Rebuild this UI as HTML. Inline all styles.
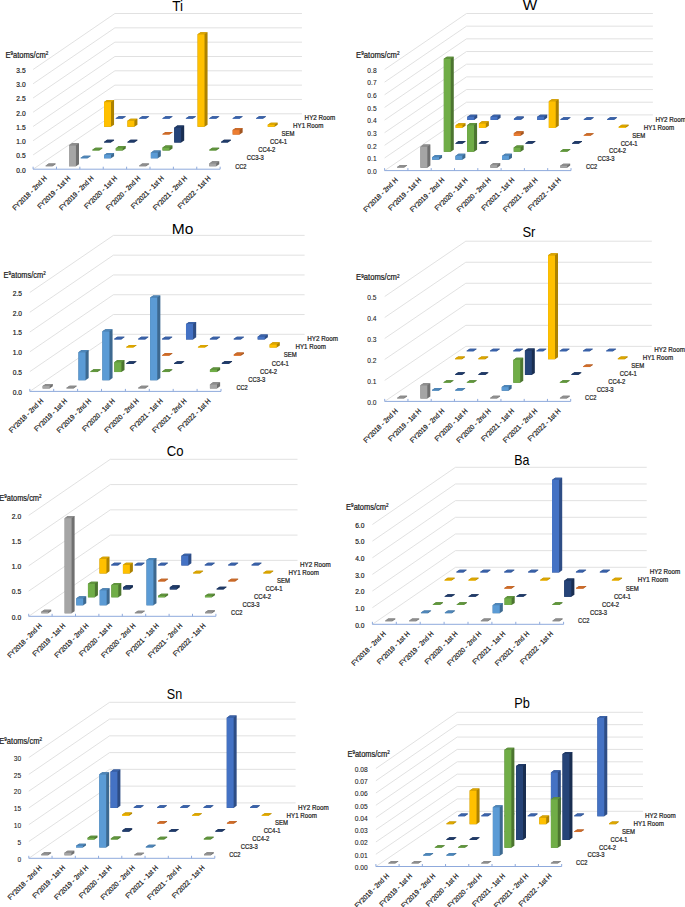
<!DOCTYPE html>
<html><head><meta charset="utf-8"><style>
html,body{margin:0;padding:0;background:#fff;}
svg{display:block;font-family:"Liberation Sans",sans-serif;}
.t{stroke:#1a1a1a;stroke-width:0.22px;}
</style></head><body>
<svg width="685" height="907" viewBox="0 0 685 907">
<rect width="685" height="907" fill="#fff"/>
<path d="M33.10,169.20 L114.90,113.80 L301.94,113.80 M33.10,154.96 L114.90,99.47 L301.94,99.47 M33.10,140.71 L114.90,85.14 L301.94,85.14 M33.10,126.47 L114.90,70.81 L301.94,70.81 M33.10,112.23 L114.90,56.49 L301.94,56.49 M33.10,97.99 L114.90,42.16 L301.94,42.16 M33.10,83.74 L114.90,27.83 L301.94,27.83 M33.10,69.50 L114.90,13.50 L301.94,13.50" fill="none" stroke="#dedede" stroke-width="0.9"/>
<path d="M33.10,169.20 L220.14,169.20 M33.10,166.70 L33.10,169.20 M56.48,166.70 L56.48,169.20 M79.86,166.70 L79.86,169.20 M103.24,166.70 L103.24,169.20 M126.62,166.70 L126.62,169.20 M150.00,166.70 L150.00,169.20 M173.38,166.70 L173.38,169.20 M196.76,166.70 L196.76,169.20 M220.14,166.70 L220.14,169.20" fill="none" stroke="#8faadc" stroke-width="1"/>
<polygon points="115.76,118.79 122.70,118.79 125.74,116.73 125.74,116.13 118.79,116.13 115.76,118.19" fill="#2e4d85"/>
<polygon points="115.76,118.19 122.70,118.19 125.74,116.13 118.79,116.13" fill="#3a62a8"/>
<polygon points="115.76,118.19 122.70,118.19 122.70,118.79 115.76,118.79" fill="#4472C4"/>
<polygon points="139.14,118.79 146.08,118.79 149.12,116.73 149.12,116.13 142.17,116.13 139.14,118.19" fill="#2e4d85"/>
<polygon points="139.14,118.19 146.08,118.19 149.12,116.13 142.17,116.13" fill="#3a62a8"/>
<polygon points="139.14,118.19 146.08,118.19 146.08,118.79 139.14,118.79" fill="#4472C4"/>
<polygon points="162.52,118.79 169.46,118.79 172.50,116.73 172.50,116.13 165.55,116.13 162.52,118.19" fill="#2e4d85"/>
<polygon points="162.52,118.19 169.46,118.19 172.50,116.13 165.55,116.13" fill="#3a62a8"/>
<polygon points="162.52,118.19 169.46,118.19 169.46,118.79 162.52,118.79" fill="#4472C4"/>
<polygon points="185.90,118.79 192.84,118.79 195.88,116.73 195.88,116.13 188.93,116.13 185.90,118.19" fill="#2e4d85"/>
<polygon points="185.90,118.19 192.84,118.19 195.88,116.13 188.93,116.13" fill="#3a62a8"/>
<polygon points="185.90,118.19 192.84,118.19 192.84,118.79 185.90,118.79" fill="#4472C4"/>
<polygon points="209.28,118.79 216.22,118.79 219.26,116.73 219.26,116.13 212.31,116.13 209.28,118.19" fill="#2e4d85"/>
<polygon points="209.28,118.19 216.22,118.19 219.26,116.13 212.31,116.13" fill="#3a62a8"/>
<polygon points="209.28,118.19 216.22,118.19 216.22,118.79 209.28,118.79" fill="#4472C4"/>
<polygon points="232.66,118.79 239.60,118.79 242.64,116.73 242.64,116.13 235.69,116.13 232.66,118.19" fill="#2e4d85"/>
<polygon points="232.66,118.19 239.60,118.19 242.64,116.13 235.69,116.13" fill="#3a62a8"/>
<polygon points="232.66,118.19 239.60,118.19 239.60,118.79 232.66,118.79" fill="#4472C4"/>
<polygon points="256.04,118.79 262.98,118.79 266.02,116.73 266.02,116.13 259.07,116.13 256.04,118.19" fill="#2e4d85"/>
<polygon points="256.04,118.19 262.98,118.19 266.02,116.13 259.07,116.13" fill="#3a62a8"/>
<polygon points="256.04,118.19 262.98,118.19 262.98,118.79 256.04,118.79" fill="#4472C4"/>
<polygon points="104.07,126.70 111.01,126.70 114.05,124.64 114.05,100.03 107.11,100.03 104.07,102.09" fill="#ad8200"/>
<polygon points="104.07,102.09 111.01,102.09 114.05,100.03 107.11,100.03" fill="#dba500"/>
<polygon points="104.07,102.09 111.01,102.09 111.01,126.70 104.07,126.70" fill="#FFC000"/>
<polygon points="127.45,126.70 134.39,126.70 137.43,124.64 137.43,118.63 130.49,118.63 127.45,120.69" fill="#ad8200"/>
<polygon points="127.45,120.69 134.39,120.69 137.43,118.63 130.49,118.63" fill="#dba500"/>
<polygon points="127.45,120.69 134.39,120.69 134.39,126.70 127.45,126.70" fill="#FFC000"/>
<polygon points="197.59,126.70 204.53,126.70 207.57,124.64 207.57,32.19 200.63,32.19 197.59,34.27" fill="#ad8200"/>
<polygon points="197.59,34.27 204.53,34.27 207.57,32.19 200.63,32.19" fill="#dba500"/>
<polygon points="197.59,34.27 204.53,34.27 204.53,126.70 197.59,126.70" fill="#FFC000"/>
<polygon points="267.73,126.70 274.67,126.70 277.71,124.64 277.71,122.64 270.77,122.64 267.73,124.70" fill="#ad8200"/>
<polygon points="267.73,124.70 274.67,124.70 277.71,122.64 270.77,122.64" fill="#dba500"/>
<polygon points="267.73,124.70 274.67,124.70 274.67,126.70 267.73,126.70" fill="#FFC000"/>
<polygon points="162.52,134.61 169.47,134.61 172.51,132.56 172.51,131.96 165.56,131.96 162.52,134.01" fill="#a15521"/>
<polygon points="162.52,134.01 169.47,134.01 172.51,131.96 165.56,131.96" fill="#cb6b2a"/>
<polygon points="162.52,134.01 169.47,134.01 169.47,134.61 162.52,134.61" fill="#ED7D31"/>
<polygon points="232.66,134.61 239.61,134.61 242.65,132.56 242.65,127.98 235.70,127.98 232.66,130.04" fill="#a15521"/>
<polygon points="232.66,130.04 239.61,130.04 242.65,127.98 235.70,127.98" fill="#cb6b2a"/>
<polygon points="232.66,130.04 239.61,130.04 239.61,134.61 232.66,134.61" fill="#ED7D31"/>
<polygon points="104.08,142.53 111.02,142.53 114.06,140.47 114.06,139.87 107.12,139.87 104.08,141.93" fill="#192e51"/>
<polygon points="104.08,141.93 111.02,141.93 114.06,139.87 107.12,139.87" fill="#203a67"/>
<polygon points="104.08,141.93 111.02,141.93 111.02,142.53 104.08,142.53" fill="#264478"/>
<polygon points="127.46,142.53 134.40,142.53 137.44,140.47 137.44,139.87 130.50,139.87 127.46,141.93" fill="#192e51"/>
<polygon points="127.46,141.93 134.40,141.93 137.44,139.87 130.50,139.87" fill="#203a67"/>
<polygon points="127.46,141.93 134.40,141.93 134.40,142.53 127.46,142.53" fill="#264478"/>
<polygon points="174.22,142.53 181.16,142.53 184.20,140.47 184.20,125.61 177.26,125.61 174.22,127.67" fill="#192e51"/>
<polygon points="174.22,127.67 181.16,127.67 184.20,125.61 177.26,125.61" fill="#203a67"/>
<polygon points="174.22,127.67 181.16,127.67 181.16,142.53 174.22,142.53" fill="#264478"/>
<polygon points="220.98,142.53 227.92,142.53 230.96,140.47 230.96,139.87 224.02,139.87 220.98,141.93" fill="#192e51"/>
<polygon points="220.98,141.93 227.92,141.93 230.96,139.87 224.02,139.87" fill="#203a67"/>
<polygon points="220.98,141.93 227.92,141.93 227.92,142.53 220.98,142.53" fill="#264478"/>
<polygon points="92.39,150.44 99.34,150.44 102.38,148.39 102.38,147.79 95.43,147.79 92.39,149.84" fill="#4c7530"/>
<polygon points="92.39,149.84 99.34,149.84 102.38,147.79 95.43,147.79" fill="#60943d"/>
<polygon points="92.39,149.84 99.34,149.84 99.34,150.44 92.39,150.44" fill="#70AD47"/>
<polygon points="115.77,150.44 122.72,150.44 125.76,148.39 125.76,146.10 118.81,146.10 115.77,148.16" fill="#4c7530"/>
<polygon points="115.77,148.16 122.72,148.16 125.76,146.10 118.81,146.10" fill="#60943d"/>
<polygon points="115.77,148.16 122.72,148.16 122.72,150.44 115.77,150.44" fill="#70AD47"/>
<polygon points="162.53,150.44 169.48,150.44 172.52,148.39 172.52,145.53 165.57,145.53 162.53,147.59" fill="#4c7530"/>
<polygon points="162.53,147.59 169.48,147.59 172.52,145.53 165.57,145.53" fill="#60943d"/>
<polygon points="162.53,147.59 169.48,147.59 169.48,150.44 162.53,150.44" fill="#70AD47"/>
<polygon points="209.29,150.44 216.24,150.44 219.28,148.39 219.28,147.79 212.33,147.79 209.29,149.84" fill="#4c7530"/>
<polygon points="209.29,149.84 216.24,149.84 219.28,147.79 212.33,147.79" fill="#60943d"/>
<polygon points="209.29,149.84 216.24,149.84 216.24,150.44 209.29,150.44" fill="#70AD47"/>
<polygon points="80.71,158.36 87.65,158.36 90.69,156.30 90.69,155.70 83.75,155.70 80.71,157.76" fill="#3d6990"/>
<polygon points="80.71,157.76 87.65,157.76 90.69,155.70 83.75,155.70" fill="#4e85b7"/>
<polygon points="80.71,157.76 87.65,157.76 87.65,158.36 80.71,158.36" fill="#5B9BD5"/>
<polygon points="104.09,158.36 111.03,158.36 114.07,156.30 114.07,152.88 107.13,152.88 104.09,154.94" fill="#3d6990"/>
<polygon points="104.09,154.94 111.03,154.94 114.07,152.88 107.13,152.88" fill="#4e85b7"/>
<polygon points="104.09,154.94 111.03,154.94 111.03,158.36 104.09,158.36" fill="#5B9BD5"/>
<polygon points="150.85,158.36 157.79,158.36 160.83,156.30 160.83,150.59 153.89,150.59 150.85,152.65" fill="#3d6990"/>
<polygon points="150.85,152.65 157.79,152.65 160.83,150.59 153.89,150.59" fill="#4e85b7"/>
<polygon points="150.85,152.65 157.79,152.65 157.79,158.36 150.85,158.36" fill="#5B9BD5"/>
<polygon points="45.64,166.27 52.59,166.27 55.62,164.21 55.62,163.61 48.68,163.61 45.64,165.67" fill="#707070"/>
<polygon points="45.64,165.67 52.59,165.67 55.62,163.61 48.68,163.61" fill="#8d8d8d"/>
<polygon points="45.64,165.67 52.59,165.67 52.59,166.27 45.64,166.27" fill="#A5A5A5"/>
<polygon points="69.02,166.27 75.97,166.27 79.00,164.21 79.00,143.27 72.06,143.27 69.02,145.33" fill="#707070"/>
<polygon points="69.02,145.33 75.97,145.33 79.00,143.27 72.06,143.27" fill="#8d8d8d"/>
<polygon points="69.02,145.33 75.97,145.33 75.97,166.27 69.02,166.27" fill="#A5A5A5"/>
<polygon points="139.16,166.27 146.11,166.27 149.14,164.21 149.14,163.61 142.20,163.61 139.16,165.67" fill="#707070"/>
<polygon points="139.16,165.67 146.11,165.67 149.14,163.61 142.20,163.61" fill="#8d8d8d"/>
<polygon points="139.16,165.67 146.11,165.67 146.11,166.27 139.16,166.27" fill="#A5A5A5"/>
<polygon points="209.30,166.27 216.25,166.27 219.28,164.21 219.28,161.36 212.34,161.36 209.30,163.42" fill="#707070"/>
<polygon points="209.30,163.42 216.25,163.42 219.28,161.36 212.34,161.36" fill="#8d8d8d"/>
<polygon points="209.30,163.42 216.25,163.42 216.25,166.27 209.30,166.27" fill="#A5A5A5"/>
<text x="25.60" y="172.50" font-size="7.4" text-anchor="end" fill="#1a1a1a" stroke="#1a1a1a" stroke-width="0.2" textLength="9.26" lengthAdjust="spacingAndGlyphs">0.0</text>
<text x="25.60" y="158.26" font-size="7.4" text-anchor="end" fill="#1a1a1a" stroke="#1a1a1a" stroke-width="0.2" textLength="9.26" lengthAdjust="spacingAndGlyphs">0.5</text>
<text x="25.60" y="144.01" font-size="7.4" text-anchor="end" fill="#1a1a1a" stroke="#1a1a1a" stroke-width="0.2" textLength="9.26" lengthAdjust="spacingAndGlyphs">1.0</text>
<text x="25.60" y="129.77" font-size="7.4" text-anchor="end" fill="#1a1a1a" stroke="#1a1a1a" stroke-width="0.2" textLength="9.26" lengthAdjust="spacingAndGlyphs">1.5</text>
<text x="25.60" y="115.53" font-size="7.4" text-anchor="end" fill="#1a1a1a" stroke="#1a1a1a" stroke-width="0.2" textLength="9.26" lengthAdjust="spacingAndGlyphs">2.0</text>
<text x="25.60" y="101.29" font-size="7.4" text-anchor="end" fill="#1a1a1a" stroke="#1a1a1a" stroke-width="0.2" textLength="9.26" lengthAdjust="spacingAndGlyphs">2.5</text>
<text x="25.60" y="87.04" font-size="7.4" text-anchor="end" fill="#1a1a1a" stroke="#1a1a1a" stroke-width="0.2" textLength="9.26" lengthAdjust="spacingAndGlyphs">3.0</text>
<text x="25.60" y="72.80" font-size="7.4" text-anchor="end" fill="#1a1a1a" stroke="#1a1a1a" stroke-width="0.2" textLength="9.26" lengthAdjust="spacingAndGlyphs">3.5</text>
<text class="t" x="5.50" y="58.00" font-size="8.2" fill="#1a1a1a" textLength="42.80" lengthAdjust="spacingAndGlyphs">E<tspan font-size="5" dy="-2.8">9</tspan><tspan dy="2.8">atoms/cm</tspan><tspan font-size="5" dy="-2.8">2</tspan></text>
<text x="172.20" y="11.20" font-size="14.2" fill="#000" textLength="10.80" lengthAdjust="spacingAndGlyphs">Ti</text>
<text class="t" x="235.20" y="168.50" font-size="7" fill="#1a1a1a" textLength="11.30" lengthAdjust="spacingAndGlyphs">CC2</text>
<text class="t" x="246.77" y="160.47" font-size="7" fill="#1a1a1a" textLength="17.00" lengthAdjust="spacingAndGlyphs">CC3-3</text>
<text class="t" x="258.34" y="152.44" font-size="7" fill="#1a1a1a" textLength="17.00" lengthAdjust="spacingAndGlyphs">CC4-2</text>
<text class="t" x="269.91" y="144.41" font-size="7" fill="#1a1a1a" textLength="17.00" lengthAdjust="spacingAndGlyphs">CC4-1</text>
<text class="t" x="281.48" y="136.38" font-size="7" fill="#1a1a1a" textLength="13.00" lengthAdjust="spacingAndGlyphs">SEM</text>
<text class="t" x="293.05" y="128.35" font-size="7" fill="#1a1a1a" textLength="30.30" lengthAdjust="spacingAndGlyphs">HY1 Room</text>
<text class="t" x="304.62" y="120.32" font-size="7" fill="#1a1a1a" textLength="30.60" lengthAdjust="spacingAndGlyphs">HY2 Room</text>
<text class="t" transform="translate(47.29,178.80) rotate(-45)" font-size="7" text-anchor="end" fill="#1a1a1a" textLength="45.18" lengthAdjust="spacingAndGlyphs">FY2018 - 2nd H</text>
<text class="t" transform="translate(70.67,178.80) rotate(-45)" font-size="7" text-anchor="end" fill="#1a1a1a" textLength="43.04" lengthAdjust="spacingAndGlyphs">FY2019 - 1st H</text>
<text class="t" transform="translate(94.05,178.80) rotate(-45)" font-size="7" text-anchor="end" fill="#1a1a1a" textLength="45.18" lengthAdjust="spacingAndGlyphs">FY2019 - 2nd H</text>
<text class="t" transform="translate(117.43,178.80) rotate(-45)" font-size="7" text-anchor="end" fill="#1a1a1a" textLength="43.04" lengthAdjust="spacingAndGlyphs">FY2020 - 1st H</text>
<text class="t" transform="translate(140.81,178.80) rotate(-45)" font-size="7" text-anchor="end" fill="#1a1a1a" textLength="45.18" lengthAdjust="spacingAndGlyphs">FY2020 - 2nd H</text>
<text class="t" transform="translate(164.19,178.80) rotate(-45)" font-size="7" text-anchor="end" fill="#1a1a1a" textLength="43.04" lengthAdjust="spacingAndGlyphs">FY2021 - 1st H</text>
<text class="t" transform="translate(187.57,178.80) rotate(-45)" font-size="7" text-anchor="end" fill="#1a1a1a" textLength="45.18" lengthAdjust="spacingAndGlyphs">FY2021 - 2nd H</text>
<text class="t" transform="translate(210.95,178.80) rotate(-45)" font-size="7" text-anchor="end" fill="#1a1a1a" textLength="43.04" lengthAdjust="spacingAndGlyphs">FY2022 - 1st H</text>
<path d="M384.60,170.60 L466.50,114.90 L652.90,114.90 M384.60,157.96 L466.50,102.23 L652.90,102.23 M384.60,145.32 L466.50,89.55 L652.90,89.55 M384.60,132.69 L466.50,76.88 L652.90,76.88 M384.60,120.05 L466.50,64.20 L652.90,64.20 M384.60,107.41 L466.50,51.53 L652.90,51.53 M384.60,94.77 L466.50,38.85 L652.90,38.85 M384.60,82.14 L466.50,26.17 L652.90,26.17 M384.60,69.50 L466.50,13.50 L652.90,13.50" fill="none" stroke="#dedede" stroke-width="0.9"/>
<path d="M384.60,170.60 L571.00,170.60 M384.60,168.10 L384.60,170.60 M407.90,168.10 L407.90,170.60 M431.20,168.10 L431.20,170.60 M454.50,168.10 L454.50,170.60 M477.80,168.10 L477.80,170.60 M501.10,168.10 L501.10,170.60 M524.40,168.10 L524.40,170.60 M547.70,168.10 L547.70,170.60 M571.00,168.10 L571.00,170.60" fill="none" stroke="#8faadc" stroke-width="1"/>
<polygon points="467.32,119.91 474.24,119.91 477.28,117.84 477.28,114.68 470.36,114.68 467.32,116.75" fill="#2e4d85"/>
<polygon points="467.32,116.75 474.24,116.75 477.28,114.68 470.36,114.68" fill="#3a62a8"/>
<polygon points="467.32,116.75 474.24,116.75 474.24,119.91 467.32,119.91" fill="#4472C4"/>
<polygon points="490.62,119.91 497.54,119.91 500.58,117.84 500.58,114.68 493.66,114.68 490.62,116.75" fill="#2e4d85"/>
<polygon points="490.62,116.75 497.54,116.75 500.58,114.68 493.66,114.68" fill="#3a62a8"/>
<polygon points="490.62,116.75 497.54,116.75 497.54,119.91 490.62,119.91" fill="#4472C4"/>
<polygon points="513.92,119.91 520.84,119.91 523.88,117.84 523.88,116.58 516.96,116.58 513.92,118.65" fill="#2e4d85"/>
<polygon points="513.92,118.65 520.84,118.65 523.88,116.58 516.96,116.58" fill="#3a62a8"/>
<polygon points="513.92,118.65 520.84,118.65 520.84,119.91 513.92,119.91" fill="#4472C4"/>
<polygon points="537.22,119.91 544.14,119.91 547.18,117.84 547.18,114.68 540.26,114.68 537.22,116.75" fill="#2e4d85"/>
<polygon points="537.22,116.75 544.14,116.75 547.18,114.68 540.26,114.68" fill="#3a62a8"/>
<polygon points="537.22,116.75 544.14,116.75 544.14,119.91 537.22,119.91" fill="#4472C4"/>
<polygon points="560.52,119.91 567.44,119.91 570.48,117.84 570.48,117.24 563.56,117.24 560.52,119.31" fill="#2e4d85"/>
<polygon points="560.52,119.31 567.44,119.31 570.48,117.24 563.56,117.24" fill="#3a62a8"/>
<polygon points="560.52,119.31 567.44,119.31 567.44,119.91 560.52,119.91" fill="#4472C4"/>
<polygon points="583.82,119.91 590.74,119.91 593.78,117.84 593.78,117.24 586.86,117.24 583.82,119.31" fill="#2e4d85"/>
<polygon points="583.82,119.31 590.74,119.31 593.78,117.24 586.86,117.24" fill="#3a62a8"/>
<polygon points="583.82,119.31 590.74,119.31 590.74,119.91 583.82,119.91" fill="#4472C4"/>
<polygon points="607.12,119.91 614.04,119.91 617.08,117.84 617.08,117.24 610.16,117.24 607.12,119.31" fill="#2e4d85"/>
<polygon points="607.12,119.31 614.04,119.31 617.08,117.24 610.16,117.24" fill="#3a62a8"/>
<polygon points="607.12,119.31 614.04,119.31 614.04,119.91 607.12,119.91" fill="#4472C4"/>
<polygon points="455.62,127.87 462.54,127.87 465.58,125.80 465.58,123.27 458.66,123.27 455.62,125.34" fill="#ad8200"/>
<polygon points="455.62,125.34 462.54,125.34 465.58,123.27 458.66,123.27" fill="#dba500"/>
<polygon points="455.62,125.34 462.54,125.34 462.54,127.87 455.62,127.87" fill="#FFC000"/>
<polygon points="478.92,127.87 485.84,127.87 488.88,125.80 488.88,121.37 481.96,121.37 478.92,123.44" fill="#ad8200"/>
<polygon points="478.92,123.44 485.84,123.44 488.88,121.37 481.96,121.37" fill="#dba500"/>
<polygon points="478.92,123.44 485.84,123.44 485.84,127.87 478.92,127.87" fill="#FFC000"/>
<polygon points="548.82,127.87 555.74,127.87 558.78,125.80 558.78,99.20 551.86,99.20 548.82,101.27" fill="#ad8200"/>
<polygon points="548.82,101.27 555.74,101.27 558.78,99.20 551.86,99.20" fill="#dba500"/>
<polygon points="548.82,101.27 555.74,101.27 555.74,127.87 548.82,127.87" fill="#FFC000"/>
<polygon points="618.72,127.87 625.64,127.87 628.68,125.80 628.68,124.79 621.76,124.79 618.72,126.86" fill="#ad8200"/>
<polygon points="618.72,126.86 625.64,126.86 628.68,124.79 621.76,124.79" fill="#dba500"/>
<polygon points="618.72,126.86 625.64,126.86 625.64,127.87 618.72,127.87" fill="#FFC000"/>
<polygon points="513.82,135.83 520.74,135.83 523.78,133.76 523.78,131.23 516.86,131.23 513.82,133.30" fill="#a15521"/>
<polygon points="513.82,133.30 520.74,133.30 523.78,131.23 516.86,131.23" fill="#cb6b2a"/>
<polygon points="513.82,133.30 520.74,133.30 520.74,135.83 513.82,135.83" fill="#ED7D31"/>
<polygon points="583.72,135.83 590.64,135.83 593.68,133.76 593.68,133.16 586.76,133.16 583.72,135.23" fill="#a15521"/>
<polygon points="583.72,135.23 590.64,135.23 593.68,133.16 586.76,133.16" fill="#cb6b2a"/>
<polygon points="583.72,135.23 590.64,135.23 590.64,135.83 583.72,135.83" fill="#ED7D31"/>
<polygon points="455.52,143.78 462.44,143.78 465.48,141.72 465.48,141.12 458.56,141.12 455.52,143.18" fill="#192e51"/>
<polygon points="455.52,143.18 462.44,143.18 465.48,141.12 458.56,141.12" fill="#203a67"/>
<polygon points="455.52,143.18 462.44,143.18 462.44,143.78 455.52,143.78" fill="#264478"/>
<polygon points="478.82,143.78 485.74,143.78 488.78,141.72 488.78,141.12 481.86,141.12 478.82,143.18" fill="#192e51"/>
<polygon points="478.82,143.18 485.74,143.18 488.78,141.12 481.86,141.12" fill="#203a67"/>
<polygon points="478.82,143.18 485.74,143.18 485.74,143.78 478.82,143.78" fill="#264478"/>
<polygon points="525.42,143.78 532.34,143.78 535.38,141.72 535.38,141.12 528.46,141.12 525.42,143.18" fill="#192e51"/>
<polygon points="525.42,143.18 532.34,143.18 535.38,141.12 528.46,141.12" fill="#203a67"/>
<polygon points="525.42,143.18 532.34,143.18 532.34,143.78 525.42,143.78" fill="#264478"/>
<polygon points="572.02,143.78 578.94,143.78 581.98,141.72 581.98,141.12 575.06,141.12 572.02,143.18" fill="#192e51"/>
<polygon points="572.02,143.18 578.94,143.18 581.98,141.12 575.06,141.12" fill="#203a67"/>
<polygon points="572.02,143.18 578.94,143.18 578.94,143.78 572.02,143.78" fill="#264478"/>
<polygon points="443.82,151.74 450.74,151.74 453.78,149.67 453.78,56.68 446.86,56.68 443.82,58.76" fill="#4c7530"/>
<polygon points="443.82,58.76 450.74,58.76 453.78,56.68 446.86,56.68" fill="#60943d"/>
<polygon points="443.82,58.76 450.74,58.76 450.74,151.74 443.82,151.74" fill="#70AD47"/>
<polygon points="467.12,151.74 474.04,151.74 477.08,149.67 477.08,123.10 470.16,123.10 467.12,125.18" fill="#4c7530"/>
<polygon points="467.12,125.18 474.04,125.18 477.08,123.10 470.16,123.10" fill="#60943d"/>
<polygon points="467.12,125.18 474.04,125.18 474.04,151.74 467.12,151.74" fill="#70AD47"/>
<polygon points="513.72,151.74 520.64,151.74 523.68,149.67 523.68,145.50 516.76,145.50 513.72,147.57" fill="#4c7530"/>
<polygon points="513.72,147.57 520.64,147.57 523.68,145.50 516.76,145.50" fill="#60943d"/>
<polygon points="513.72,147.57 520.64,147.57 520.64,151.74 513.72,151.74" fill="#70AD47"/>
<polygon points="560.32,151.74 567.24,151.74 570.28,149.67 570.28,149.07 563.36,149.07 560.32,151.14" fill="#4c7530"/>
<polygon points="560.32,151.14 567.24,151.14 570.28,149.07 563.36,149.07" fill="#60943d"/>
<polygon points="560.32,151.14 567.24,151.14 567.24,151.74 560.32,151.74" fill="#70AD47"/>
<polygon points="432.12,159.70 439.04,159.70 442.08,157.63 442.08,155.10 435.16,155.10 432.12,157.17" fill="#3d6990"/>
<polygon points="432.12,157.17 439.04,157.17 442.08,155.10 435.16,155.10" fill="#4e85b7"/>
<polygon points="432.12,157.17 439.04,157.17 439.04,159.70 432.12,159.70" fill="#5B9BD5"/>
<polygon points="455.42,159.70 462.34,159.70 465.38,157.63 465.38,153.84 458.46,153.84 455.42,155.91" fill="#3d6990"/>
<polygon points="455.42,155.91 462.34,155.91 465.38,153.84 458.46,153.84" fill="#4e85b7"/>
<polygon points="455.42,155.91 462.34,155.91 462.34,159.70 455.42,159.70" fill="#5B9BD5"/>
<polygon points="502.02,159.70 508.94,159.70 511.98,157.63 511.98,153.84 505.06,153.84 502.02,155.91" fill="#3d6990"/>
<polygon points="502.02,155.91 508.94,155.91 511.98,153.84 505.06,153.84" fill="#4e85b7"/>
<polygon points="502.02,155.91 508.94,155.91 508.94,159.70 502.02,159.70" fill="#5B9BD5"/>
<polygon points="397.12,167.66 404.04,167.66 407.08,165.59 407.08,164.99 400.16,164.99 397.12,167.06" fill="#707070"/>
<polygon points="397.12,167.06 404.04,167.06 407.08,164.99 400.16,164.99" fill="#8d8d8d"/>
<polygon points="397.12,167.06 404.04,167.06 404.04,167.66 397.12,167.66" fill="#A5A5A5"/>
<polygon points="420.42,167.66 427.34,167.66 430.38,165.59 430.38,144.60 423.46,144.60 420.42,146.67" fill="#707070"/>
<polygon points="420.42,146.67 427.34,146.67 430.38,144.60 423.46,144.60" fill="#8d8d8d"/>
<polygon points="420.42,146.67 427.34,146.67 427.34,167.66 420.42,167.66" fill="#A5A5A5"/>
<polygon points="490.32,167.66 497.24,167.66 500.28,165.59 500.28,163.06 493.36,163.06 490.32,165.13" fill="#707070"/>
<polygon points="490.32,165.13 497.24,165.13 500.28,163.06 493.36,163.06" fill="#8d8d8d"/>
<polygon points="490.32,165.13 497.24,165.13 497.24,167.66 490.32,167.66" fill="#A5A5A5"/>
<polygon points="560.22,167.66 567.14,167.66 570.18,165.59 570.18,163.69 563.26,163.69 560.22,165.76" fill="#707070"/>
<polygon points="560.22,165.76 567.14,165.76 570.18,163.69 563.26,163.69" fill="#8d8d8d"/>
<polygon points="560.22,165.76 567.14,165.76 567.14,167.66 560.22,167.66" fill="#A5A5A5"/>
<text x="376.60" y="173.90" font-size="7.4" text-anchor="end" fill="#1a1a1a" stroke="#1a1a1a" stroke-width="0.08" textLength="9.26" lengthAdjust="spacingAndGlyphs">0.0</text>
<text x="376.60" y="161.26" font-size="7.4" text-anchor="end" fill="#1a1a1a" stroke="#1a1a1a" stroke-width="0.08" textLength="9.26" lengthAdjust="spacingAndGlyphs">0.1</text>
<text x="376.60" y="148.62" font-size="7.4" text-anchor="end" fill="#1a1a1a" stroke="#1a1a1a" stroke-width="0.08" textLength="9.26" lengthAdjust="spacingAndGlyphs">0.2</text>
<text x="376.60" y="135.99" font-size="7.4" text-anchor="end" fill="#1a1a1a" stroke="#1a1a1a" stroke-width="0.08" textLength="9.26" lengthAdjust="spacingAndGlyphs">0.3</text>
<text x="376.60" y="123.35" font-size="7.4" text-anchor="end" fill="#1a1a1a" stroke="#1a1a1a" stroke-width="0.08" textLength="9.26" lengthAdjust="spacingAndGlyphs">0.4</text>
<text x="376.60" y="110.71" font-size="7.4" text-anchor="end" fill="#1a1a1a" stroke="#1a1a1a" stroke-width="0.08" textLength="9.26" lengthAdjust="spacingAndGlyphs">0.5</text>
<text x="376.60" y="98.07" font-size="7.4" text-anchor="end" fill="#1a1a1a" stroke="#1a1a1a" stroke-width="0.08" textLength="9.26" lengthAdjust="spacingAndGlyphs">0.6</text>
<text x="376.60" y="85.44" font-size="7.4" text-anchor="end" fill="#1a1a1a" stroke="#1a1a1a" stroke-width="0.08" textLength="9.26" lengthAdjust="spacingAndGlyphs">0.7</text>
<text x="376.60" y="72.80" font-size="7.4" text-anchor="end" fill="#1a1a1a" stroke="#1a1a1a" stroke-width="0.08" textLength="9.26" lengthAdjust="spacingAndGlyphs">0.8</text>
<text class="t" x="356.10" y="58.20" font-size="8.2" fill="#1a1a1a" textLength="43.40" lengthAdjust="spacingAndGlyphs">E<tspan font-size="5" dy="-2.8">9</tspan><tspan dy="2.8">atoms/cm</tspan><tspan font-size="5" dy="-2.8">2</tspan></text>
<text x="522.70" y="10.30" font-size="14.2" fill="#000" textLength="14.40" lengthAdjust="spacingAndGlyphs">W</text>
<text class="t" x="585.90" y="169.20" font-size="7" fill="#1a1a1a" textLength="11.30" lengthAdjust="spacingAndGlyphs">CC2</text>
<text class="t" x="597.48" y="161.30" font-size="7" fill="#1a1a1a" textLength="17.00" lengthAdjust="spacingAndGlyphs">CC3-3</text>
<text class="t" x="609.06" y="153.40" font-size="7" fill="#1a1a1a" textLength="17.00" lengthAdjust="spacingAndGlyphs">CC4-2</text>
<text class="t" x="620.64" y="145.50" font-size="7" fill="#1a1a1a" textLength="17.00" lengthAdjust="spacingAndGlyphs">CC4-1</text>
<text class="t" x="632.22" y="137.60" font-size="7" fill="#1a1a1a" textLength="13.00" lengthAdjust="spacingAndGlyphs">SEM</text>
<text class="t" x="643.80" y="129.70" font-size="7" fill="#1a1a1a" textLength="30.30" lengthAdjust="spacingAndGlyphs">HY1 Room</text>
<text class="t" x="655.38" y="121.80" font-size="7" fill="#1a1a1a" textLength="30.60" lengthAdjust="spacingAndGlyphs">HY2 Room</text>
<text class="t" transform="translate(398.15,180.60) rotate(-45)" font-size="7" text-anchor="end" fill="#1a1a1a" textLength="45.18" lengthAdjust="spacingAndGlyphs">FY2018 - 2nd H</text>
<text class="t" transform="translate(421.45,180.60) rotate(-45)" font-size="7" text-anchor="end" fill="#1a1a1a" textLength="43.04" lengthAdjust="spacingAndGlyphs">FY2019 - 1st H</text>
<text class="t" transform="translate(444.75,180.60) rotate(-45)" font-size="7" text-anchor="end" fill="#1a1a1a" textLength="45.18" lengthAdjust="spacingAndGlyphs">FY2019 - 2nd H</text>
<text class="t" transform="translate(468.05,180.60) rotate(-45)" font-size="7" text-anchor="end" fill="#1a1a1a" textLength="43.04" lengthAdjust="spacingAndGlyphs">FY2020 - 1st H</text>
<text class="t" transform="translate(491.35,180.60) rotate(-45)" font-size="7" text-anchor="end" fill="#1a1a1a" textLength="45.18" lengthAdjust="spacingAndGlyphs">FY2020 - 2nd H</text>
<text class="t" transform="translate(514.65,180.60) rotate(-45)" font-size="7" text-anchor="end" fill="#1a1a1a" textLength="43.04" lengthAdjust="spacingAndGlyphs">FY2021 - 1st H</text>
<text class="t" transform="translate(537.95,180.60) rotate(-45)" font-size="7" text-anchor="end" fill="#1a1a1a" textLength="45.18" lengthAdjust="spacingAndGlyphs">FY2021 - 2nd H</text>
<text class="t" transform="translate(561.25,180.60) rotate(-45)" font-size="7" text-anchor="end" fill="#1a1a1a" textLength="43.04" lengthAdjust="spacingAndGlyphs">FY2022 - 1st H</text>
<path d="M29.80,391.40 L113.40,334.30 L304.60,334.30 M29.80,371.62 L113.40,314.52 L304.60,314.52 M29.80,351.84 L113.40,294.74 L304.60,294.74 M29.80,332.06 L113.40,274.96 L304.60,274.96 M29.80,312.28 L113.40,255.18 L304.60,255.18 M29.80,292.50 L113.40,235.40 L304.60,235.40" fill="none" stroke="#dedede" stroke-width="0.9"/>
<path d="M29.80,391.40 L221.00,391.40 M29.80,388.90 L29.80,391.40 M53.70,388.90 L53.70,391.40 M77.60,388.90 L77.60,391.40 M101.50,388.90 L101.50,391.40 M125.40,388.90 L125.40,391.40 M149.30,388.90 L149.30,391.40 M173.20,388.90 L173.20,391.40 M197.10,388.90 L197.10,391.40 M221.00,388.90 L221.00,391.40" fill="none" stroke="#8faadc" stroke-width="1"/>
<polygon points="114.28,339.44 121.38,339.44 124.48,337.32 124.48,336.72 117.38,336.72 114.28,338.84" fill="#2e4d85"/>
<polygon points="114.28,338.84 121.38,338.84 124.48,336.72 117.38,336.72" fill="#3a62a8"/>
<polygon points="114.28,338.84 121.38,338.84 121.38,339.44 114.28,339.44" fill="#4472C4"/>
<polygon points="138.18,339.44 145.28,339.44 148.38,337.32 148.38,336.72 141.28,336.72 138.18,338.84" fill="#2e4d85"/>
<polygon points="138.18,338.84 145.28,338.84 148.38,336.72 141.28,336.72" fill="#3a62a8"/>
<polygon points="138.18,338.84 145.28,338.84 145.28,339.44 138.18,339.44" fill="#4472C4"/>
<polygon points="162.08,339.44 169.18,339.44 172.28,337.32 172.28,336.72 165.18,336.72 162.08,338.84" fill="#2e4d85"/>
<polygon points="162.08,338.84 169.18,338.84 172.28,336.72 165.18,336.72" fill="#3a62a8"/>
<polygon points="162.08,338.84 169.18,338.84 169.18,339.44 162.08,339.44" fill="#4472C4"/>
<polygon points="185.98,339.44 193.08,339.44 196.18,337.32 196.18,321.89 189.08,321.89 185.98,324.01" fill="#2e4d85"/>
<polygon points="185.98,324.01 193.08,324.01 196.18,321.89 189.08,321.89" fill="#3a62a8"/>
<polygon points="185.98,324.01 193.08,324.01 193.08,339.44 185.98,339.44" fill="#4472C4"/>
<polygon points="209.88,339.44 216.98,339.44 220.08,337.32 220.08,336.72 212.98,336.72 209.88,338.84" fill="#2e4d85"/>
<polygon points="209.88,338.84 216.98,338.84 220.08,336.72 212.98,336.72" fill="#3a62a8"/>
<polygon points="209.88,338.84 216.98,338.84 216.98,339.44 209.88,339.44" fill="#4472C4"/>
<polygon points="233.78,339.44 240.88,339.44 243.98,337.32 243.98,336.72 236.88,336.72 233.78,338.84" fill="#2e4d85"/>
<polygon points="233.78,338.84 240.88,338.84 243.98,336.72 236.88,336.72" fill="#3a62a8"/>
<polygon points="233.78,338.84 240.88,338.84 240.88,339.44 233.78,339.44" fill="#4472C4"/>
<polygon points="257.68,339.44 264.78,339.44 267.88,337.32 267.88,334.55 260.78,334.55 257.68,336.67" fill="#2e4d85"/>
<polygon points="257.68,336.67 264.78,336.67 267.88,334.55 260.78,334.55" fill="#3a62a8"/>
<polygon points="257.68,336.67 264.78,336.67 264.78,339.44 257.68,339.44" fill="#4472C4"/>
<polygon points="126.23,347.60 133.33,347.60 136.44,345.48 136.44,344.88 129.34,344.88 126.23,347.00" fill="#ad8200"/>
<polygon points="126.23,347.00 133.33,347.00 136.44,344.88 129.34,344.88" fill="#dba500"/>
<polygon points="126.23,347.00 133.33,347.00 133.33,347.60 126.23,347.60" fill="#FFC000"/>
<polygon points="197.93,347.60 205.03,347.60 208.14,345.48 208.14,344.88 201.04,344.88 197.93,347.00" fill="#ad8200"/>
<polygon points="197.93,347.00 205.03,347.00 208.14,344.88 201.04,344.88" fill="#dba500"/>
<polygon points="197.93,347.00 205.03,347.00 205.03,347.60 197.93,347.60" fill="#FFC000"/>
<polygon points="269.63,347.60 276.73,347.60 279.84,345.48 279.84,342.31 272.74,342.31 269.63,344.43" fill="#ad8200"/>
<polygon points="269.63,344.43 276.73,344.43 279.84,342.31 272.74,342.31" fill="#dba500"/>
<polygon points="269.63,344.43 276.73,344.43 276.73,347.60 269.63,347.60" fill="#FFC000"/>
<polygon points="162.09,355.75 169.19,355.75 172.29,353.63 172.29,353.03 165.20,353.03 162.09,355.15" fill="#a15521"/>
<polygon points="162.09,355.15 169.19,355.15 172.29,353.03 165.20,353.03" fill="#cb6b2a"/>
<polygon points="162.09,355.15 169.19,355.15 169.19,355.75 162.09,355.75" fill="#ED7D31"/>
<polygon points="233.79,355.75 240.89,355.75 243.99,353.63 243.99,352.45 236.90,352.45 233.79,354.57" fill="#a15521"/>
<polygon points="233.79,354.57 240.89,354.57 243.99,352.45 236.90,352.45" fill="#cb6b2a"/>
<polygon points="233.79,354.57 240.89,354.57 240.89,355.75 233.79,355.75" fill="#ED7D31"/>
<polygon points="126.25,363.91 133.35,363.91 136.45,361.79 136.45,361.19 129.35,361.19 126.25,363.31" fill="#192e51"/>
<polygon points="126.25,363.31 133.35,363.31 136.45,361.19 129.35,361.19" fill="#203a67"/>
<polygon points="126.25,363.31 133.35,363.31 133.35,363.91 126.25,363.91" fill="#264478"/>
<polygon points="174.05,363.91 181.15,363.91 184.25,361.79 184.25,361.19 177.15,361.19 174.05,363.31" fill="#192e51"/>
<polygon points="174.05,363.31 181.15,363.31 184.25,361.19 177.15,361.19" fill="#203a67"/>
<polygon points="174.05,363.31 181.15,363.31 181.15,363.91 174.05,363.91" fill="#264478"/>
<polygon points="221.85,363.91 228.95,363.91 232.05,361.79 232.05,361.00 224.95,361.00 221.85,363.12" fill="#192e51"/>
<polygon points="221.85,363.12 228.95,363.12 232.05,361.00 224.95,361.00" fill="#203a67"/>
<polygon points="221.85,363.12 228.95,363.12 228.95,363.91 221.85,363.91" fill="#264478"/>
<polygon points="90.41,372.07 97.50,372.07 100.61,369.95 100.61,369.35 93.51,369.35 90.41,371.47" fill="#4c7530"/>
<polygon points="90.41,371.47 97.50,371.47 100.61,369.35 93.51,369.35" fill="#60943d"/>
<polygon points="90.41,371.47 97.50,371.47 97.50,372.07 90.41,372.07" fill="#70AD47"/>
<polygon points="114.31,372.07 121.40,372.07 124.51,369.95 124.51,360.06 117.41,360.06 114.31,362.18" fill="#4c7530"/>
<polygon points="114.31,362.18 121.40,362.18 124.51,360.06 117.41,360.06" fill="#60943d"/>
<polygon points="114.31,362.18 121.40,362.18 121.40,372.07 114.31,372.07" fill="#70AD47"/>
<polygon points="162.11,372.07 169.20,372.07 172.31,369.95 172.31,369.35 165.21,369.35 162.11,371.47" fill="#4c7530"/>
<polygon points="162.11,371.47 169.20,371.47 172.31,369.35 165.21,369.35" fill="#60943d"/>
<polygon points="162.11,371.47 169.20,371.47 169.20,372.07 162.11,372.07" fill="#70AD47"/>
<polygon points="209.91,372.07 217.00,372.07 220.11,369.95 220.11,367.57 213.01,367.57 209.91,369.69" fill="#4c7530"/>
<polygon points="209.91,369.69 217.00,369.69 220.11,367.57 213.01,367.57" fill="#60943d"/>
<polygon points="209.91,369.69 217.00,369.69 217.00,372.07 209.91,372.07" fill="#70AD47"/>
<polygon points="78.46,380.22 85.56,380.22 88.67,378.10 88.67,350.10 81.57,350.10 78.46,352.22" fill="#3d6990"/>
<polygon points="78.46,352.22 85.56,352.22 88.67,350.10 81.57,350.10" fill="#4e85b7"/>
<polygon points="78.46,352.22 85.56,352.22 85.56,380.22 78.46,380.22" fill="#5B9BD5"/>
<polygon points="102.36,380.22 109.46,380.22 112.57,378.10 112.57,329.21 105.47,329.21 102.36,331.33" fill="#3d6990"/>
<polygon points="102.36,331.33 109.46,331.33 112.57,329.21 105.47,329.21" fill="#4e85b7"/>
<polygon points="102.36,331.33 109.46,331.33 109.46,380.22 102.36,380.22" fill="#5B9BD5"/>
<polygon points="150.16,380.22 157.26,380.22 160.37,378.10 160.37,295.42 153.27,295.42 150.16,297.54" fill="#3d6990"/>
<polygon points="150.16,297.54 157.26,297.54 160.37,295.42 153.27,295.42" fill="#4e85b7"/>
<polygon points="150.16,297.54 157.26,297.54 157.26,380.22 150.16,380.22" fill="#5B9BD5"/>
<polygon points="42.62,388.38 49.72,388.38 52.82,386.26 52.82,383.89 45.72,383.89 42.62,386.01" fill="#707070"/>
<polygon points="42.62,386.01 49.72,386.01 52.82,383.89 45.72,383.89" fill="#8d8d8d"/>
<polygon points="42.62,386.01 49.72,386.01 49.72,388.38 42.62,388.38" fill="#A5A5A5"/>
<polygon points="66.52,388.38 73.62,388.38 76.72,386.26 76.72,385.66 69.62,385.66 66.52,387.78" fill="#707070"/>
<polygon points="66.52,387.78 73.62,387.78 76.72,385.66 69.62,385.66" fill="#8d8d8d"/>
<polygon points="66.52,387.78 73.62,387.78 73.62,388.38 66.52,388.38" fill="#A5A5A5"/>
<polygon points="138.22,388.38 145.32,388.38 148.42,386.26 148.42,385.66 141.32,385.66 138.22,387.78" fill="#707070"/>
<polygon points="138.22,387.78 145.32,387.78 148.42,385.66 141.32,385.66" fill="#8d8d8d"/>
<polygon points="138.22,387.78 145.32,387.78 145.32,388.38 138.22,388.38" fill="#A5A5A5"/>
<polygon points="209.92,388.38 217.02,388.38 220.12,386.26 220.12,382.30 213.02,382.30 209.92,384.43" fill="#707070"/>
<polygon points="209.92,384.43 217.02,384.43 220.12,382.30 213.02,382.30" fill="#8d8d8d"/>
<polygon points="209.92,384.43 217.02,384.43 217.02,388.38 209.92,388.38" fill="#A5A5A5"/>
<text x="22.00" y="394.70" font-size="7.4" text-anchor="end" fill="#1a1a1a" stroke="#1a1a1a" stroke-width="0.2" textLength="9.26" lengthAdjust="spacingAndGlyphs">0.0</text>
<text x="22.00" y="374.92" font-size="7.4" text-anchor="end" fill="#1a1a1a" stroke="#1a1a1a" stroke-width="0.2" textLength="9.26" lengthAdjust="spacingAndGlyphs">0.5</text>
<text x="22.00" y="355.14" font-size="7.4" text-anchor="end" fill="#1a1a1a" stroke="#1a1a1a" stroke-width="0.2" textLength="9.26" lengthAdjust="spacingAndGlyphs">1.0</text>
<text x="22.00" y="335.36" font-size="7.4" text-anchor="end" fill="#1a1a1a" stroke="#1a1a1a" stroke-width="0.2" textLength="9.26" lengthAdjust="spacingAndGlyphs">1.5</text>
<text x="22.00" y="315.58" font-size="7.4" text-anchor="end" fill="#1a1a1a" stroke="#1a1a1a" stroke-width="0.2" textLength="9.26" lengthAdjust="spacingAndGlyphs">2.0</text>
<text x="22.00" y="295.80" font-size="7.4" text-anchor="end" fill="#1a1a1a" stroke="#1a1a1a" stroke-width="0.2" textLength="9.26" lengthAdjust="spacingAndGlyphs">2.5</text>
<text class="t" x="3.60" y="277.80" font-size="8.2" fill="#1a1a1a" textLength="42.10" lengthAdjust="spacingAndGlyphs">E<tspan font-size="5" dy="-2.8">9</tspan><tspan dy="2.8">atoms/cm</tspan><tspan font-size="5" dy="-2.8">2</tspan></text>
<text x="171.80" y="233.70" font-size="14.2" fill="#000" textLength="21.60" lengthAdjust="spacingAndGlyphs">Mo</text>
<text class="t" x="236.40" y="390.20" font-size="7" fill="#1a1a1a" textLength="11.30" lengthAdjust="spacingAndGlyphs">CC2</text>
<text class="t" x="248.22" y="382.02" font-size="7" fill="#1a1a1a" textLength="17.00" lengthAdjust="spacingAndGlyphs">CC3-3</text>
<text class="t" x="260.04" y="373.84" font-size="7" fill="#1a1a1a" textLength="17.00" lengthAdjust="spacingAndGlyphs">CC4-2</text>
<text class="t" x="271.86" y="365.66" font-size="7" fill="#1a1a1a" textLength="17.00" lengthAdjust="spacingAndGlyphs">CC4-1</text>
<text class="t" x="283.68" y="357.48" font-size="7" fill="#1a1a1a" textLength="13.00" lengthAdjust="spacingAndGlyphs">SEM</text>
<text class="t" x="295.50" y="349.30" font-size="7" fill="#1a1a1a" textLength="30.30" lengthAdjust="spacingAndGlyphs">HY1 Room</text>
<text class="t" x="307.32" y="341.12" font-size="7" fill="#1a1a1a" textLength="30.60" lengthAdjust="spacingAndGlyphs">HY2 Room</text>
<text class="t" transform="translate(43.65,401.40) rotate(-45)" font-size="7" text-anchor="end" fill="#1a1a1a" textLength="45.18" lengthAdjust="spacingAndGlyphs">FY2018 - 2nd H</text>
<text class="t" transform="translate(67.55,401.40) rotate(-45)" font-size="7" text-anchor="end" fill="#1a1a1a" textLength="43.04" lengthAdjust="spacingAndGlyphs">FY2019 - 1st H</text>
<text class="t" transform="translate(91.45,401.40) rotate(-45)" font-size="7" text-anchor="end" fill="#1a1a1a" textLength="45.18" lengthAdjust="spacingAndGlyphs">FY2019 - 2nd H</text>
<text class="t" transform="translate(115.35,401.40) rotate(-45)" font-size="7" text-anchor="end" fill="#1a1a1a" textLength="43.04" lengthAdjust="spacingAndGlyphs">FY2020 - 1st H</text>
<text class="t" transform="translate(139.25,401.40) rotate(-45)" font-size="7" text-anchor="end" fill="#1a1a1a" textLength="45.18" lengthAdjust="spacingAndGlyphs">FY2020 - 2nd H</text>
<text class="t" transform="translate(163.15,401.40) rotate(-45)" font-size="7" text-anchor="end" fill="#1a1a1a" textLength="43.04" lengthAdjust="spacingAndGlyphs">FY2021 - 1st H</text>
<text class="t" transform="translate(187.05,401.40) rotate(-45)" font-size="7" text-anchor="end" fill="#1a1a1a" textLength="45.18" lengthAdjust="spacingAndGlyphs">FY2021 - 2nd H</text>
<text class="t" transform="translate(210.95,401.40) rotate(-45)" font-size="7" text-anchor="end" fill="#1a1a1a" textLength="43.04" lengthAdjust="spacingAndGlyphs">FY2022 - 1st H</text>
<path d="M384.70,401.40 L465.80,346.40 L651.80,346.40 M384.70,380.42 L465.80,325.36 L651.80,325.36 M384.70,359.44 L465.80,304.32 L651.80,304.32 M384.70,338.46 L465.80,283.28 L651.80,283.28 M384.70,317.48 L465.80,262.24 L651.80,262.24 M384.70,296.50 L465.80,241.20 L651.80,241.20" fill="none" stroke="#dedede" stroke-width="0.9"/>
<path d="M384.70,401.40 L570.70,401.40 M384.70,398.90 L384.70,401.40 M407.95,398.90 L407.95,401.40 M431.20,398.90 L431.20,401.40 M454.45,398.90 L454.45,401.40 M477.70,398.90 L477.70,401.40 M500.95,398.90 L500.95,401.40 M524.20,398.90 L524.20,401.40 M547.45,398.90 L547.45,401.40 M570.70,398.90 L570.70,401.40" fill="none" stroke="#8faadc" stroke-width="1"/>
<polygon points="466.67,351.35 473.58,351.35 476.59,349.31 476.59,348.71 469.69,348.71 466.67,350.75" fill="#2e4d85"/>
<polygon points="466.67,350.75 473.58,350.75 476.59,348.71 469.69,348.71" fill="#3a62a8"/>
<polygon points="466.67,350.75 473.58,350.75 473.58,351.35 466.67,351.35" fill="#4472C4"/>
<polygon points="489.92,351.35 496.83,351.35 499.84,349.31 499.84,348.71 492.94,348.71 489.92,350.75" fill="#2e4d85"/>
<polygon points="489.92,350.75 496.83,350.75 499.84,348.71 492.94,348.71" fill="#3a62a8"/>
<polygon points="489.92,350.75 496.83,350.75 496.83,351.35 489.92,351.35" fill="#4472C4"/>
<polygon points="513.17,351.35 520.08,351.35 523.09,349.31 523.09,348.71 516.19,348.71 513.17,350.75" fill="#2e4d85"/>
<polygon points="513.17,350.75 520.08,350.75 523.09,348.71 516.19,348.71" fill="#3a62a8"/>
<polygon points="513.17,350.75 520.08,350.75 520.08,351.35 513.17,351.35" fill="#4472C4"/>
<polygon points="536.42,351.35 543.33,351.35 546.34,349.31 546.34,348.71 539.44,348.71 536.42,350.75" fill="#2e4d85"/>
<polygon points="536.42,350.75 543.33,350.75 546.34,348.71 539.44,348.71" fill="#3a62a8"/>
<polygon points="536.42,350.75 543.33,350.75 543.33,351.35 536.42,351.35" fill="#4472C4"/>
<polygon points="559.67,351.35 566.58,351.35 569.59,349.31 569.59,348.71 562.69,348.71 559.67,350.75" fill="#2e4d85"/>
<polygon points="559.67,350.75 566.58,350.75 569.59,348.71 562.69,348.71" fill="#3a62a8"/>
<polygon points="559.67,350.75 566.58,350.75 566.58,351.35 559.67,351.35" fill="#4472C4"/>
<polygon points="582.92,351.35 589.83,351.35 592.84,349.31 592.84,348.71 585.94,348.71 582.92,350.75" fill="#2e4d85"/>
<polygon points="582.92,350.75 589.83,350.75 592.84,348.71 585.94,348.71" fill="#3a62a8"/>
<polygon points="582.92,350.75 589.83,350.75 589.83,351.35 582.92,351.35" fill="#4472C4"/>
<polygon points="606.17,351.35 613.08,351.35 616.09,349.31 616.09,348.71 609.19,348.71 606.17,350.75" fill="#2e4d85"/>
<polygon points="606.17,350.75 613.08,350.75 616.09,348.71 609.19,348.71" fill="#3a62a8"/>
<polygon points="606.17,350.75 613.08,350.75 613.08,351.35 606.17,351.35" fill="#4472C4"/>
<polygon points="455.09,359.21 461.99,359.21 465.01,357.16 465.01,356.56 458.10,356.56 455.09,358.61" fill="#ad8200"/>
<polygon points="455.09,358.61 461.99,358.61 465.01,356.56 458.10,356.56" fill="#dba500"/>
<polygon points="455.09,358.61 461.99,358.61 461.99,359.21 455.09,359.21" fill="#FFC000"/>
<polygon points="478.34,359.21 485.24,359.21 488.26,357.16 488.26,356.56 481.35,356.56 478.34,358.61" fill="#ad8200"/>
<polygon points="478.34,358.61 485.24,358.61 488.26,356.56 481.35,356.56" fill="#dba500"/>
<polygon points="478.34,358.61 485.24,358.61 485.24,359.21 478.34,359.21" fill="#FFC000"/>
<polygon points="548.09,359.21 554.99,359.21 558.01,357.16 558.01,253.28 551.10,253.28 548.09,255.34" fill="#ad8200"/>
<polygon points="548.09,255.34 554.99,255.34 558.01,253.28 551.10,253.28" fill="#dba500"/>
<polygon points="548.09,255.34 554.99,255.34 554.99,359.21 548.09,359.21" fill="#FFC000"/>
<polygon points="617.84,359.21 624.74,359.21 627.76,357.16 627.76,356.56 620.85,356.56 617.84,358.61" fill="#ad8200"/>
<polygon points="617.84,358.61 624.74,358.61 627.76,356.56 620.85,356.56" fill="#dba500"/>
<polygon points="617.84,358.61 624.74,358.61 624.74,359.21 617.84,359.21" fill="#FFC000"/>
<polygon points="583.00,367.06 589.91,367.06 592.92,365.02 592.92,364.42 586.01,364.42 583.00,366.46" fill="#a15521"/>
<polygon points="583.00,366.46 589.91,366.46 592.92,364.42 586.01,364.42" fill="#cb6b2a"/>
<polygon points="583.00,366.46 589.91,366.46 589.91,367.06 583.00,367.06" fill="#ED7D31"/>
<polygon points="455.17,374.92 462.07,374.92 465.08,372.88 465.08,372.28 458.18,372.28 455.17,374.32" fill="#192e51"/>
<polygon points="455.17,374.32 462.07,374.32 465.08,372.28 458.18,372.28" fill="#203a67"/>
<polygon points="455.17,374.32 462.07,374.32 462.07,374.92 455.17,374.92" fill="#264478"/>
<polygon points="478.42,374.92 485.32,374.92 488.33,372.88 488.33,372.28 481.43,372.28 478.42,374.32" fill="#192e51"/>
<polygon points="478.42,374.32 485.32,374.32 488.33,372.28 481.43,372.28" fill="#203a67"/>
<polygon points="478.42,374.32 485.32,374.32 485.32,374.92 478.42,374.92" fill="#264478"/>
<polygon points="524.92,374.92 531.82,374.92 534.83,372.88 534.83,348.51 527.93,348.51 524.92,350.55" fill="#192e51"/>
<polygon points="524.92,350.55 531.82,350.55 534.83,348.51 527.93,348.51" fill="#203a67"/>
<polygon points="524.92,350.55 531.82,350.55 531.82,374.92 524.92,374.92" fill="#264478"/>
<polygon points="571.42,374.92 578.32,374.92 581.33,372.88 581.33,372.28 574.43,372.28 571.42,374.32" fill="#192e51"/>
<polygon points="571.42,374.32 578.32,374.32 581.33,372.28 574.43,372.28" fill="#203a67"/>
<polygon points="571.42,374.32 578.32,374.32 578.32,374.92 571.42,374.92" fill="#264478"/>
<polygon points="443.58,382.78 450.49,382.78 453.50,380.74 453.50,380.14 446.59,380.14 443.58,382.18" fill="#4c7530"/>
<polygon points="443.58,382.18 450.49,382.18 453.50,380.14 446.59,380.14" fill="#60943d"/>
<polygon points="443.58,382.18 450.49,382.18 450.49,382.78 443.58,382.78" fill="#70AD47"/>
<polygon points="466.83,382.78 473.74,382.78 476.75,380.74 476.75,380.14 469.84,380.14 466.83,382.18" fill="#4c7530"/>
<polygon points="466.83,382.18 473.74,382.18 476.75,380.14 469.84,380.14" fill="#60943d"/>
<polygon points="466.83,382.18 473.74,382.18 473.74,382.78 466.83,382.78" fill="#70AD47"/>
<polygon points="513.33,382.78 520.24,382.78 523.25,380.74 523.25,357.84 516.34,357.84 513.33,359.89" fill="#4c7530"/>
<polygon points="513.33,359.89 520.24,359.89 523.25,357.84 516.34,357.84" fill="#60943d"/>
<polygon points="513.33,359.89 520.24,359.89 520.24,382.78 513.33,382.78" fill="#70AD47"/>
<polygon points="559.83,382.78 566.74,382.78 569.75,380.74 569.75,380.14 562.84,380.14 559.83,382.18" fill="#4c7530"/>
<polygon points="559.83,382.18 566.74,382.18 569.75,380.14 562.84,380.14" fill="#60943d"/>
<polygon points="559.83,382.18 566.74,382.18 566.74,382.78 559.83,382.78" fill="#70AD47"/>
<polygon points="431.99,390.64 438.90,390.64 441.91,388.59 441.91,387.99 435.01,387.99 431.99,390.04" fill="#3d6990"/>
<polygon points="431.99,390.04 438.90,390.04 441.91,387.99 435.01,387.99" fill="#4e85b7"/>
<polygon points="431.99,390.04 438.90,390.04 438.90,390.64 431.99,390.64" fill="#5B9BD5"/>
<polygon points="455.24,390.64 462.15,390.64 465.16,388.59 465.16,387.99 458.26,387.99 455.24,390.04" fill="#3d6990"/>
<polygon points="455.24,390.04 462.15,390.04 465.16,387.99 458.26,387.99" fill="#4e85b7"/>
<polygon points="455.24,390.04 462.15,390.04 462.15,390.64 455.24,390.64" fill="#5B9BD5"/>
<polygon points="501.74,390.64 508.65,390.64 511.66,388.59 511.66,385.02 504.76,385.02 501.74,387.07" fill="#3d6990"/>
<polygon points="501.74,387.07 508.65,387.07 511.66,385.02 504.76,385.02" fill="#4e85b7"/>
<polygon points="501.74,387.07 508.65,387.07 508.65,390.64 501.74,390.64" fill="#5B9BD5"/>
<polygon points="397.16,398.49 404.06,398.49 407.08,396.45 407.08,395.85 400.17,395.85 397.16,397.89" fill="#707070"/>
<polygon points="397.16,397.89 404.06,397.89 407.08,395.85 400.17,395.85" fill="#8d8d8d"/>
<polygon points="397.16,397.89 404.06,397.89 404.06,398.49 397.16,398.49" fill="#A5A5A5"/>
<polygon points="420.41,398.49 427.31,398.49 430.33,396.45 430.33,383.23 423.42,383.23 420.41,385.27" fill="#707070"/>
<polygon points="420.41,385.27 427.31,385.27 430.33,383.23 423.42,383.23" fill="#8d8d8d"/>
<polygon points="420.41,385.27 427.31,385.27 427.31,398.49 420.41,398.49" fill="#A5A5A5"/>
<polygon points="490.16,398.49 497.06,398.49 500.08,396.45 500.08,395.85 493.17,395.85 490.16,397.89" fill="#707070"/>
<polygon points="490.16,397.89 497.06,397.89 500.08,395.85 493.17,395.85" fill="#8d8d8d"/>
<polygon points="490.16,397.89 497.06,397.89 497.06,398.49 490.16,398.49" fill="#A5A5A5"/>
<polygon points="559.91,398.49 566.81,398.49 569.83,396.45 569.83,395.85 562.92,395.85 559.91,397.89" fill="#707070"/>
<polygon points="559.91,397.89 566.81,397.89 569.83,395.85 562.92,395.85" fill="#8d8d8d"/>
<polygon points="559.91,397.89 566.81,397.89 566.81,398.49 559.91,398.49" fill="#A5A5A5"/>
<text x="376.50" y="404.70" font-size="7.4" text-anchor="end" fill="#1a1a1a" stroke="#1a1a1a" stroke-width="0.08" textLength="9.26" lengthAdjust="spacingAndGlyphs">0.0</text>
<text x="376.50" y="383.72" font-size="7.4" text-anchor="end" fill="#1a1a1a" stroke="#1a1a1a" stroke-width="0.08" textLength="9.26" lengthAdjust="spacingAndGlyphs">0.1</text>
<text x="376.50" y="362.74" font-size="7.4" text-anchor="end" fill="#1a1a1a" stroke="#1a1a1a" stroke-width="0.08" textLength="9.26" lengthAdjust="spacingAndGlyphs">0.2</text>
<text x="376.50" y="341.76" font-size="7.4" text-anchor="end" fill="#1a1a1a" stroke="#1a1a1a" stroke-width="0.08" textLength="9.26" lengthAdjust="spacingAndGlyphs">0.3</text>
<text x="376.50" y="320.78" font-size="7.4" text-anchor="end" fill="#1a1a1a" stroke="#1a1a1a" stroke-width="0.08" textLength="9.26" lengthAdjust="spacingAndGlyphs">0.4</text>
<text x="376.50" y="299.80" font-size="7.4" text-anchor="end" fill="#1a1a1a" stroke="#1a1a1a" stroke-width="0.08" textLength="9.26" lengthAdjust="spacingAndGlyphs">0.5</text>
<text class="t" x="356.10" y="280.30" font-size="8.2" fill="#1a1a1a" textLength="43.40" lengthAdjust="spacingAndGlyphs">E<tspan font-size="5" dy="-2.8">9</tspan><tspan dy="2.8">atoms/cm</tspan><tspan font-size="5" dy="-2.8">2</tspan></text>
<text x="522.40" y="237.40" font-size="14.2" fill="#000" textLength="13.00" lengthAdjust="spacingAndGlyphs">Sr</text>
<text class="t" x="585.10" y="400.00" font-size="7" fill="#1a1a1a" textLength="11.30" lengthAdjust="spacingAndGlyphs">CC2</text>
<text class="t" x="596.63" y="392.07" font-size="7" fill="#1a1a1a" textLength="17.00" lengthAdjust="spacingAndGlyphs">CC3-3</text>
<text class="t" x="608.16" y="384.14" font-size="7" fill="#1a1a1a" textLength="17.00" lengthAdjust="spacingAndGlyphs">CC4-2</text>
<text class="t" x="619.69" y="376.21" font-size="7" fill="#1a1a1a" textLength="17.00" lengthAdjust="spacingAndGlyphs">CC4-1</text>
<text class="t" x="631.22" y="368.28" font-size="7" fill="#1a1a1a" textLength="13.00" lengthAdjust="spacingAndGlyphs">SEM</text>
<text class="t" x="642.75" y="360.35" font-size="7" fill="#1a1a1a" textLength="30.30" lengthAdjust="spacingAndGlyphs">HY1 Room</text>
<text class="t" x="654.28" y="352.42" font-size="7" fill="#1a1a1a" textLength="30.60" lengthAdjust="spacingAndGlyphs">HY2 Room</text>
<text class="t" transform="translate(398.22,411.40) rotate(-45)" font-size="7" text-anchor="end" fill="#1a1a1a" textLength="45.18" lengthAdjust="spacingAndGlyphs">FY2018 - 2nd H</text>
<text class="t" transform="translate(421.47,411.40) rotate(-45)" font-size="7" text-anchor="end" fill="#1a1a1a" textLength="43.04" lengthAdjust="spacingAndGlyphs">FY2019 - 1st H</text>
<text class="t" transform="translate(444.72,411.40) rotate(-45)" font-size="7" text-anchor="end" fill="#1a1a1a" textLength="45.18" lengthAdjust="spacingAndGlyphs">FY2019 - 2nd H</text>
<text class="t" transform="translate(467.97,411.40) rotate(-45)" font-size="7" text-anchor="end" fill="#1a1a1a" textLength="43.04" lengthAdjust="spacingAndGlyphs">FY2020 - 1st H</text>
<text class="t" transform="translate(491.22,411.40) rotate(-45)" font-size="7" text-anchor="end" fill="#1a1a1a" textLength="45.18" lengthAdjust="spacingAndGlyphs">FY2020 - 2nd H</text>
<text class="t" transform="translate(514.48,411.40) rotate(-45)" font-size="7" text-anchor="end" fill="#1a1a1a" textLength="43.04" lengthAdjust="spacingAndGlyphs">FY2021 - 1st H</text>
<text class="t" transform="translate(537.73,411.40) rotate(-45)" font-size="7" text-anchor="end" fill="#1a1a1a" textLength="45.18" lengthAdjust="spacingAndGlyphs">FY2021 - 2nd H</text>
<text class="t" transform="translate(560.98,411.40) rotate(-45)" font-size="7" text-anchor="end" fill="#1a1a1a" textLength="43.04" lengthAdjust="spacingAndGlyphs">FY2022 - 1st H</text>
<path d="M28.70,616.30 L110.30,560.40 L297.50,560.40 M28.70,591.07 L110.30,535.12 L297.50,535.12 M28.70,565.85 L110.30,509.85 L297.50,509.85 M28.70,540.62 L110.30,484.57 L297.50,484.57 M28.70,515.40 L110.30,459.30 L297.50,459.30" fill="none" stroke="#dedede" stroke-width="0.9"/>
<path d="M28.70,616.30 L215.90,616.30 M28.70,613.80 L28.70,616.30 M52.10,613.80 L52.10,616.30 M75.50,613.80 L75.50,616.30 M98.90,613.80 L98.90,616.30 M122.30,613.80 L122.30,616.30 M145.70,613.80 L145.70,616.30 M169.10,613.80 L169.10,616.30 M192.50,613.80 L192.50,616.30 M215.90,613.80 L215.90,616.30" fill="none" stroke="#8faadc" stroke-width="1"/>
<polygon points="111.18,565.43 118.13,565.43 121.16,563.35 121.16,562.75 114.21,562.75 111.18,564.83" fill="#2e4d85"/>
<polygon points="111.18,564.83 118.13,564.83 121.16,562.75 114.21,562.75" fill="#3a62a8"/>
<polygon points="111.18,564.83 118.13,564.83 118.13,565.43 111.18,565.43" fill="#4472C4"/>
<polygon points="134.58,565.43 141.53,565.43 144.56,563.35 144.56,562.75 137.61,562.75 134.58,564.83" fill="#2e4d85"/>
<polygon points="134.58,564.83 141.53,564.83 144.56,562.75 137.61,562.75" fill="#3a62a8"/>
<polygon points="134.58,564.83 141.53,564.83 141.53,565.43 134.58,565.43" fill="#4472C4"/>
<polygon points="157.98,565.43 164.93,565.43 167.96,563.35 167.96,562.75 161.01,562.75 157.98,564.83" fill="#2e4d85"/>
<polygon points="157.98,564.83 164.93,564.83 167.96,562.75 161.01,562.75" fill="#3a62a8"/>
<polygon points="157.98,564.83 164.93,564.83 164.93,565.43 157.98,565.43" fill="#4472C4"/>
<polygon points="181.38,565.43 188.33,565.43 191.36,563.35 191.36,553.75 184.41,553.75 181.38,555.83" fill="#2e4d85"/>
<polygon points="181.38,555.83 188.33,555.83 191.36,553.75 184.41,553.75" fill="#3a62a8"/>
<polygon points="181.38,555.83 188.33,555.83 188.33,565.43 181.38,565.43" fill="#4472C4"/>
<polygon points="204.78,565.43 211.73,565.43 214.76,563.35 214.76,562.75 207.81,562.75 204.78,564.83" fill="#2e4d85"/>
<polygon points="204.78,564.83 211.73,564.83 214.76,562.75 207.81,562.75" fill="#3a62a8"/>
<polygon points="204.78,564.83 211.73,564.83 211.73,565.43 204.78,565.43" fill="#4472C4"/>
<polygon points="228.18,565.43 235.13,565.43 238.16,563.35 238.16,562.75 231.21,562.75 228.18,564.83" fill="#2e4d85"/>
<polygon points="228.18,564.83 235.13,564.83 238.16,562.75 231.21,562.75" fill="#3a62a8"/>
<polygon points="228.18,564.83 235.13,564.83 235.13,565.43 228.18,565.43" fill="#4472C4"/>
<polygon points="251.58,565.43 258.53,565.43 261.56,563.35 261.56,562.75 254.61,562.75 251.58,564.83" fill="#2e4d85"/>
<polygon points="251.58,564.83 258.53,564.83 261.56,562.75 254.61,562.75" fill="#3a62a8"/>
<polygon points="251.58,564.83 258.53,564.83 258.53,565.43 251.58,565.43" fill="#4472C4"/>
<polygon points="99.52,573.42 106.47,573.42 109.50,571.34 109.50,556.69 102.55,556.69 99.52,558.76" fill="#ad8200"/>
<polygon points="99.52,558.76 106.47,558.76 109.50,556.69 102.55,556.69" fill="#dba500"/>
<polygon points="99.52,558.76 106.47,558.76 106.47,573.42 99.52,573.42" fill="#FFC000"/>
<polygon points="122.92,573.42 129.87,573.42 132.90,571.34 132.90,562.75 125.95,562.75 122.92,564.83" fill="#ad8200"/>
<polygon points="122.92,564.83 129.87,564.83 132.90,562.75 125.95,562.75" fill="#dba500"/>
<polygon points="122.92,564.83 129.87,564.83 129.87,573.42 122.92,573.42" fill="#FFC000"/>
<polygon points="193.12,573.42 200.07,573.42 203.10,571.34 203.10,570.74 196.15,570.74 193.12,572.82" fill="#ad8200"/>
<polygon points="193.12,572.82 200.07,572.82 203.10,570.74 196.15,570.74" fill="#dba500"/>
<polygon points="193.12,572.82 200.07,572.82 200.07,573.42 193.12,573.42" fill="#FFC000"/>
<polygon points="263.32,573.42 270.27,573.42 273.30,571.34 273.30,570.74 266.35,570.74 263.32,572.82" fill="#ad8200"/>
<polygon points="263.32,572.82 270.27,572.82 273.30,570.74 266.35,570.74" fill="#dba500"/>
<polygon points="263.32,572.82 270.27,572.82 270.27,573.42 263.32,573.42" fill="#FFC000"/>
<polygon points="158.07,581.40 165.02,581.40 168.05,579.33 168.05,578.73 161.10,578.73 158.07,580.80" fill="#a15521"/>
<polygon points="158.07,580.80 165.02,580.80 168.05,578.73 161.10,578.73" fill="#cb6b2a"/>
<polygon points="158.07,580.80 165.02,580.80 165.02,581.40 158.07,581.40" fill="#ED7D31"/>
<polygon points="228.27,581.40 235.22,581.40 238.25,579.33 238.25,578.73 231.30,578.73 228.27,580.80" fill="#a15521"/>
<polygon points="228.27,580.80 235.22,580.80 238.25,578.73 231.30,578.73" fill="#cb6b2a"/>
<polygon points="228.27,580.80 235.22,580.80 235.22,581.40 228.27,581.40" fill="#ED7D31"/>
<polygon points="123.01,589.39 129.96,589.39 132.99,587.31 132.99,585.29 126.04,585.29 123.01,587.37" fill="#192e51"/>
<polygon points="123.01,587.37 129.96,587.37 132.99,585.29 126.04,585.29" fill="#203a67"/>
<polygon points="123.01,587.37 129.96,587.37 129.96,589.39 123.01,589.39" fill="#264478"/>
<polygon points="169.81,589.39 176.76,589.39 179.79,587.31 179.79,585.29 172.84,585.29 169.81,587.37" fill="#192e51"/>
<polygon points="169.81,587.37 176.76,587.37 179.79,585.29 172.84,585.29" fill="#203a67"/>
<polygon points="169.81,587.37 176.76,587.37 176.76,589.39 169.81,589.39" fill="#264478"/>
<polygon points="216.61,589.39 223.56,589.39 226.59,587.31 226.59,586.71 219.64,586.71 216.61,588.79" fill="#192e51"/>
<polygon points="216.61,588.79 223.56,588.79 226.59,586.71 219.64,586.71" fill="#203a67"/>
<polygon points="216.61,588.79 223.56,588.79 223.56,589.39 216.61,589.39" fill="#264478"/>
<polygon points="87.95,597.37 94.90,597.37 97.93,595.30 97.93,581.67 90.98,581.67 87.95,583.74" fill="#4c7530"/>
<polygon points="87.95,583.74 94.90,583.74 97.93,581.67 90.98,581.67" fill="#60943d"/>
<polygon points="87.95,583.74 94.90,583.74 94.90,597.37 87.95,597.37" fill="#70AD47"/>
<polygon points="111.35,597.37 118.30,597.37 121.33,595.30 121.33,582.93 114.38,582.93 111.35,585.01" fill="#4c7530"/>
<polygon points="111.35,585.01 118.30,585.01 121.33,582.93 114.38,582.93" fill="#60943d"/>
<polygon points="111.35,585.01 118.30,585.01 118.30,597.37 111.35,597.37" fill="#70AD47"/>
<polygon points="158.15,597.37 165.10,597.37 168.13,595.30 168.13,593.78 161.18,593.78 158.15,595.86" fill="#4c7530"/>
<polygon points="158.15,595.86 165.10,595.86 168.13,593.78 161.18,593.78" fill="#60943d"/>
<polygon points="158.15,595.86 165.10,595.86 165.10,597.37 158.15,597.37" fill="#70AD47"/>
<polygon points="204.95,597.37 211.90,597.37 214.93,595.30 214.93,593.78 207.98,593.78 204.95,595.86" fill="#4c7530"/>
<polygon points="204.95,595.86 211.90,595.86 214.93,593.78 207.98,593.78" fill="#60943d"/>
<polygon points="204.95,595.86 211.90,595.86 211.90,597.37 204.95,597.37" fill="#70AD47"/>
<polygon points="76.30,605.36 83.25,605.36 86.28,603.28 86.28,596.22 79.33,596.22 76.30,598.29" fill="#3d6990"/>
<polygon points="76.30,598.29 83.25,598.29 86.28,596.22 79.33,596.22" fill="#4e85b7"/>
<polygon points="76.30,598.29 83.25,598.29 83.25,605.36 76.30,605.36" fill="#5B9BD5"/>
<polygon points="99.70,605.36 106.65,605.36 109.68,603.28 109.68,588.14 102.73,588.14 99.70,590.22" fill="#3d6990"/>
<polygon points="99.70,590.22 106.65,590.22 109.68,588.14 102.73,588.14" fill="#4e85b7"/>
<polygon points="99.70,590.22 106.65,590.22 106.65,605.36 99.70,605.36" fill="#5B9BD5"/>
<polygon points="146.50,605.36 153.45,605.36 156.48,603.28 156.48,558.01 149.53,558.01 146.50,560.09" fill="#3d6990"/>
<polygon points="146.50,560.09 153.45,560.09 156.48,558.01 149.53,558.01" fill="#4e85b7"/>
<polygon points="146.50,560.09 153.45,560.09 153.45,605.36 146.50,605.36" fill="#5B9BD5"/>
<polygon points="41.24,613.35 48.19,613.35 51.22,611.27 51.22,609.76 44.27,609.76 41.24,611.83" fill="#707070"/>
<polygon points="41.24,611.83 48.19,611.83 51.22,609.76 44.27,609.76" fill="#8d8d8d"/>
<polygon points="41.24,611.83 48.19,611.83 48.19,613.35 41.24,613.35" fill="#A5A5A5"/>
<polygon points="64.64,613.35 71.59,613.35 74.62,611.27 74.62,516.05 67.67,516.05 64.64,518.14" fill="#707070"/>
<polygon points="64.64,518.14 71.59,518.14 74.62,516.05 67.67,516.05" fill="#8d8d8d"/>
<polygon points="64.64,518.14 71.59,518.14 71.59,613.35 64.64,613.35" fill="#A5A5A5"/>
<polygon points="134.84,613.35 141.79,613.35 144.82,611.27 144.82,610.67 137.87,610.67 134.84,612.75" fill="#707070"/>
<polygon points="134.84,612.75 141.79,612.75 144.82,610.67 137.87,610.67" fill="#8d8d8d"/>
<polygon points="134.84,612.75 141.79,612.75 141.79,613.35 134.84,613.35" fill="#A5A5A5"/>
<polygon points="205.04,613.35 211.99,613.35 215.02,611.27 215.02,610.26 208.07,610.26 205.04,612.34" fill="#707070"/>
<polygon points="205.04,612.34 211.99,612.34 215.02,610.26 208.07,610.26" fill="#8d8d8d"/>
<polygon points="205.04,612.34 211.99,612.34 211.99,613.35 205.04,613.35" fill="#A5A5A5"/>
<text x="21.10" y="619.60" font-size="7.4" text-anchor="end" fill="#1a1a1a" stroke="#1a1a1a" stroke-width="0.2" textLength="9.26" lengthAdjust="spacingAndGlyphs">0.0</text>
<text x="21.10" y="594.37" font-size="7.4" text-anchor="end" fill="#1a1a1a" stroke="#1a1a1a" stroke-width="0.2" textLength="9.26" lengthAdjust="spacingAndGlyphs">0.5</text>
<text x="21.10" y="569.15" font-size="7.4" text-anchor="end" fill="#1a1a1a" stroke="#1a1a1a" stroke-width="0.2" textLength="9.26" lengthAdjust="spacingAndGlyphs">1.0</text>
<text x="21.10" y="543.92" font-size="7.4" text-anchor="end" fill="#1a1a1a" stroke="#1a1a1a" stroke-width="0.2" textLength="9.26" lengthAdjust="spacingAndGlyphs">1.5</text>
<text x="21.10" y="518.70" font-size="7.4" text-anchor="end" fill="#1a1a1a" stroke="#1a1a1a" stroke-width="0.2" textLength="9.26" lengthAdjust="spacingAndGlyphs">2.0</text>
<text class="t" x="-0.70" y="501.00" font-size="8.2" fill="#1a1a1a" textLength="42.30" lengthAdjust="spacingAndGlyphs">E<tspan font-size="5" dy="-2.8">9</tspan><tspan dy="2.8">atoms/cm</tspan><tspan font-size="5" dy="-2.8">2</tspan></text>
<text x="166.80" y="456.00" font-size="14.2" fill="#000" textLength="16.80" lengthAdjust="spacingAndGlyphs">Co</text>
<text class="t" x="231.10" y="615.20" font-size="7" fill="#1a1a1a" textLength="11.30" lengthAdjust="spacingAndGlyphs">CC2</text>
<text class="t" x="242.60" y="607.22" font-size="7" fill="#1a1a1a" textLength="17.00" lengthAdjust="spacingAndGlyphs">CC3-3</text>
<text class="t" x="254.10" y="599.24" font-size="7" fill="#1a1a1a" textLength="17.00" lengthAdjust="spacingAndGlyphs">CC4-2</text>
<text class="t" x="265.60" y="591.26" font-size="7" fill="#1a1a1a" textLength="17.00" lengthAdjust="spacingAndGlyphs">CC4-1</text>
<text class="t" x="277.10" y="583.28" font-size="7" fill="#1a1a1a" textLength="13.00" lengthAdjust="spacingAndGlyphs">SEM</text>
<text class="t" x="288.60" y="575.30" font-size="7" fill="#1a1a1a" textLength="30.30" lengthAdjust="spacingAndGlyphs">HY1 Room</text>
<text class="t" x="300.10" y="567.32" font-size="7" fill="#1a1a1a" textLength="30.60" lengthAdjust="spacingAndGlyphs">HY2 Room</text>
<text class="t" transform="translate(42.30,626.30) rotate(-45)" font-size="7" text-anchor="end" fill="#1a1a1a" textLength="45.18" lengthAdjust="spacingAndGlyphs">FY2018 - 2nd H</text>
<text class="t" transform="translate(65.70,626.30) rotate(-45)" font-size="7" text-anchor="end" fill="#1a1a1a" textLength="43.04" lengthAdjust="spacingAndGlyphs">FY2019 - 1st H</text>
<text class="t" transform="translate(89.10,626.30) rotate(-45)" font-size="7" text-anchor="end" fill="#1a1a1a" textLength="45.18" lengthAdjust="spacingAndGlyphs">FY2019 - 2nd H</text>
<text class="t" transform="translate(112.50,626.30) rotate(-45)" font-size="7" text-anchor="end" fill="#1a1a1a" textLength="43.04" lengthAdjust="spacingAndGlyphs">FY2020 - 1st H</text>
<text class="t" transform="translate(135.90,626.30) rotate(-45)" font-size="7" text-anchor="end" fill="#1a1a1a" textLength="45.18" lengthAdjust="spacingAndGlyphs">FY2020 - 2nd H</text>
<text class="t" transform="translate(159.30,626.30) rotate(-45)" font-size="7" text-anchor="end" fill="#1a1a1a" textLength="43.04" lengthAdjust="spacingAndGlyphs">FY2021 - 1st H</text>
<text class="t" transform="translate(182.70,626.30) rotate(-45)" font-size="7" text-anchor="end" fill="#1a1a1a" textLength="45.18" lengthAdjust="spacingAndGlyphs">FY2021 - 2nd H</text>
<text class="t" transform="translate(206.10,626.30) rotate(-45)" font-size="7" text-anchor="end" fill="#1a1a1a" textLength="43.04" lengthAdjust="spacingAndGlyphs">FY2022 - 1st H</text>
<path d="M372.40,624.30 L455.50,567.30 L646.70,567.30 M372.40,607.67 L455.50,550.63 L646.70,550.63 M372.40,591.03 L455.50,533.97 L646.70,533.97 M372.40,574.40 L455.50,517.30 L646.70,517.30 M372.40,557.77 L455.50,500.63 L646.70,500.63 M372.40,541.13 L455.50,483.97 L646.70,483.97 M372.40,524.50 L455.50,467.30 L646.70,467.30" fill="none" stroke="#dedede" stroke-width="0.9"/>
<path d="M372.40,624.30 L563.60,624.30 M372.40,621.80 L372.40,624.30 M396.30,621.80 L396.30,624.30 M420.20,621.80 L420.20,624.30 M444.10,621.80 L444.10,624.30 M468.00,621.80 L468.00,624.30 M491.90,621.80 L491.90,624.30 M515.80,621.80 L515.80,624.30 M539.70,621.80 L539.70,624.30 M563.60,621.80 L563.60,624.30" fill="none" stroke="#8faadc" stroke-width="1"/>
<polygon points="456.42,572.43 463.52,572.43 466.61,570.31 466.61,569.71 459.51,569.71 456.42,571.83" fill="#2e4d85"/>
<polygon points="456.42,571.83 463.52,571.83 466.61,569.71 459.51,569.71" fill="#3a62a8"/>
<polygon points="456.42,571.83 463.52,571.83 463.52,572.43 456.42,572.43" fill="#4472C4"/>
<polygon points="480.32,572.43 487.42,572.43 490.51,570.31 490.51,569.71 483.41,569.71 480.32,571.83" fill="#2e4d85"/>
<polygon points="480.32,571.83 487.42,571.83 490.51,569.71 483.41,569.71" fill="#3a62a8"/>
<polygon points="480.32,571.83 487.42,571.83 487.42,572.43 480.32,572.43" fill="#4472C4"/>
<polygon points="504.22,572.43 511.32,572.43 514.41,570.31 514.41,569.71 507.31,569.71 504.22,571.83" fill="#2e4d85"/>
<polygon points="504.22,571.83 511.32,571.83 514.41,569.71 507.31,569.71" fill="#3a62a8"/>
<polygon points="504.22,571.83 511.32,571.83 511.32,572.43 504.22,572.43" fill="#4472C4"/>
<polygon points="528.12,572.43 535.22,572.43 538.31,570.31 538.31,569.71 531.21,569.71 528.12,571.83" fill="#2e4d85"/>
<polygon points="528.12,571.83 535.22,571.83 538.31,569.71 531.21,569.71" fill="#3a62a8"/>
<polygon points="528.12,571.83 535.22,571.83 535.22,572.43 528.12,572.43" fill="#4472C4"/>
<polygon points="552.02,572.43 559.12,572.43 562.21,570.31 562.21,477.82 555.11,477.82 552.02,479.95" fill="#2e4d85"/>
<polygon points="552.02,479.95 559.12,479.95 562.21,477.82 555.11,477.82" fill="#3a62a8"/>
<polygon points="552.02,479.95 559.12,479.95 559.12,572.43 552.02,572.43" fill="#4472C4"/>
<polygon points="575.92,572.43 583.02,572.43 586.11,570.31 586.11,569.71 579.01,569.71 575.92,571.83" fill="#2e4d85"/>
<polygon points="575.92,571.83 583.02,571.83 586.11,569.71 579.01,569.71" fill="#3a62a8"/>
<polygon points="575.92,571.83 583.02,571.83 583.02,572.43 575.92,572.43" fill="#4472C4"/>
<polygon points="599.82,572.43 606.92,572.43 610.01,570.31 610.01,569.71 602.91,569.71 599.82,571.83" fill="#2e4d85"/>
<polygon points="599.82,571.83 606.92,571.83 610.01,569.71 602.91,569.71" fill="#3a62a8"/>
<polygon points="599.82,571.83 606.92,571.83 606.92,572.43 599.82,572.43" fill="#4472C4"/>
<polygon points="444.55,580.57 451.65,580.57 454.74,578.46 454.74,577.86 447.64,577.86 444.55,579.97" fill="#ad8200"/>
<polygon points="444.55,579.97 451.65,579.97 454.74,577.86 447.64,577.86" fill="#dba500"/>
<polygon points="444.55,579.97 451.65,579.97 451.65,580.57 444.55,580.57" fill="#FFC000"/>
<polygon points="468.45,580.57 475.55,580.57 478.64,578.46 478.64,577.86 471.54,577.86 468.45,579.97" fill="#ad8200"/>
<polygon points="468.45,579.97 475.55,579.97 478.64,577.86 471.54,577.86" fill="#dba500"/>
<polygon points="468.45,579.97 475.55,579.97 475.55,580.57 468.45,580.57" fill="#FFC000"/>
<polygon points="540.15,580.57 547.25,580.57 550.34,578.46 550.34,577.86 543.24,577.86 540.15,579.97" fill="#ad8200"/>
<polygon points="540.15,579.97 547.25,579.97 550.34,577.86 543.24,577.86" fill="#dba500"/>
<polygon points="540.15,579.97 547.25,579.97 547.25,580.57 540.15,580.57" fill="#FFC000"/>
<polygon points="611.85,580.57 618.95,580.57 622.04,578.46 622.04,577.86 614.94,577.86 611.85,579.97" fill="#ad8200"/>
<polygon points="611.85,579.97 618.95,579.97 622.04,577.86 614.94,577.86" fill="#dba500"/>
<polygon points="611.85,579.97 618.95,579.97 618.95,580.57 611.85,580.57" fill="#FFC000"/>
<polygon points="504.38,588.72 511.48,588.72 514.56,586.60 514.56,586.00 507.47,586.00 504.38,588.12" fill="#a15521"/>
<polygon points="504.38,588.12 511.48,588.12 514.56,586.00 507.47,586.00" fill="#cb6b2a"/>
<polygon points="504.38,588.12 511.48,588.12 511.48,588.72 504.38,588.72" fill="#ED7D31"/>
<polygon points="576.08,588.72 583.18,588.72 586.26,586.60 586.26,586.00 579.17,586.00 576.08,588.12" fill="#a15521"/>
<polygon points="576.08,588.12 583.18,588.12 586.26,586.00 579.17,586.00" fill="#cb6b2a"/>
<polygon points="576.08,588.12 583.18,588.12 583.18,588.72 576.08,588.72" fill="#ED7D31"/>
<polygon points="444.71,596.86 451.81,596.86 454.89,594.74 454.89,594.14 447.79,594.14 444.71,596.26" fill="#192e51"/>
<polygon points="444.71,596.26 451.81,596.26 454.89,594.14 447.79,594.14" fill="#203a67"/>
<polygon points="444.71,596.26 451.81,596.26 451.81,596.86 444.71,596.86" fill="#264478"/>
<polygon points="468.61,596.86 475.71,596.86 478.79,594.74 478.79,594.14 471.69,594.14 468.61,596.26" fill="#192e51"/>
<polygon points="468.61,596.26 475.71,596.26 478.79,594.14 471.69,594.14" fill="#203a67"/>
<polygon points="468.61,596.26 475.71,596.26 475.71,596.86 468.61,596.86" fill="#264478"/>
<polygon points="516.41,596.86 523.51,596.86 526.59,594.74 526.59,594.14 519.49,594.14 516.41,596.26" fill="#192e51"/>
<polygon points="516.41,596.26 523.51,596.26 526.59,594.14 519.49,594.14" fill="#203a67"/>
<polygon points="516.41,596.26 523.51,596.26 523.51,596.86 516.41,596.86" fill="#264478"/>
<polygon points="564.21,596.86 571.31,596.86 574.39,594.74 574.39,578.59 567.29,578.59 564.21,580.71" fill="#192e51"/>
<polygon points="564.21,580.71 571.31,580.71 574.39,578.59 567.29,578.59" fill="#203a67"/>
<polygon points="564.21,580.71 571.31,580.71 571.31,596.86 564.21,596.86" fill="#264478"/>
<polygon points="432.84,605.00 439.93,605.00 443.02,602.88 443.02,602.28 435.92,602.28 432.84,604.40" fill="#4c7530"/>
<polygon points="432.84,604.40 439.93,604.40 443.02,602.28 435.92,602.28" fill="#60943d"/>
<polygon points="432.84,604.40 439.93,604.40 439.93,605.00 432.84,605.00" fill="#70AD47"/>
<polygon points="456.74,605.00 463.83,605.00 466.92,602.88 466.92,602.28 459.82,602.28 456.74,604.40" fill="#4c7530"/>
<polygon points="456.74,604.40 463.83,604.40 466.92,602.28 459.82,602.28" fill="#60943d"/>
<polygon points="456.74,604.40 463.83,604.40 463.83,605.00 456.74,605.00" fill="#70AD47"/>
<polygon points="504.54,605.00 511.63,605.00 514.72,602.88 514.72,596.06 507.62,596.06 504.54,598.18" fill="#4c7530"/>
<polygon points="504.54,598.18 511.63,598.18 514.72,596.06 507.62,596.06" fill="#60943d"/>
<polygon points="504.54,598.18 511.63,598.18 511.63,605.00 504.54,605.00" fill="#70AD47"/>
<polygon points="552.34,605.00 559.43,605.00 562.52,602.88 562.52,602.28 555.42,602.28 552.34,604.40" fill="#4c7530"/>
<polygon points="552.34,604.40 559.43,604.40 562.52,602.28 555.42,602.28" fill="#60943d"/>
<polygon points="552.34,604.40 559.43,604.40 559.43,605.00 552.34,605.00" fill="#70AD47"/>
<polygon points="420.96,613.14 428.06,613.14 431.15,611.03 431.15,610.43 424.05,610.43 420.96,612.54" fill="#3d6990"/>
<polygon points="420.96,612.54 428.06,612.54 431.15,610.43 424.05,610.43" fill="#4e85b7"/>
<polygon points="420.96,612.54 428.06,612.54 428.06,613.14 420.96,613.14" fill="#5B9BD5"/>
<polygon points="444.86,613.14 451.96,613.14 455.05,611.03 455.05,610.43 447.95,610.43 444.86,612.54" fill="#3d6990"/>
<polygon points="444.86,612.54 451.96,612.54 455.05,610.43 447.95,610.43" fill="#4e85b7"/>
<polygon points="444.86,612.54 451.96,612.54 451.96,613.14 444.86,613.14" fill="#5B9BD5"/>
<polygon points="492.66,613.14 499.76,613.14 502.85,611.03 502.85,603.04 495.75,603.04 492.66,605.16" fill="#3d6990"/>
<polygon points="492.66,605.16 499.76,605.16 502.85,603.04 495.75,603.04" fill="#4e85b7"/>
<polygon points="492.66,605.16 499.76,605.16 499.76,613.14 492.66,613.14" fill="#5B9BD5"/>
<polygon points="385.19,621.29 392.29,621.29 395.38,619.17 395.38,618.57 388.28,618.57 385.19,620.69" fill="#707070"/>
<polygon points="385.19,620.69 392.29,620.69 395.38,618.57 388.28,618.57" fill="#8d8d8d"/>
<polygon points="385.19,620.69 392.29,620.69 392.29,621.29 385.19,621.29" fill="#A5A5A5"/>
<polygon points="409.09,621.29 416.19,621.29 419.28,619.17 419.28,618.57 412.18,618.57 409.09,620.69" fill="#707070"/>
<polygon points="409.09,620.69 416.19,620.69 419.28,618.57 412.18,618.57" fill="#8d8d8d"/>
<polygon points="409.09,620.69 416.19,620.69 416.19,621.29 409.09,621.29" fill="#A5A5A5"/>
<polygon points="480.79,621.29 487.89,621.29 490.98,619.17 490.98,618.57 483.88,618.57 480.79,620.69" fill="#707070"/>
<polygon points="480.79,620.69 487.89,620.69 490.98,618.57 483.88,618.57" fill="#8d8d8d"/>
<polygon points="480.79,620.69 487.89,620.69 487.89,621.29 480.79,621.29" fill="#A5A5A5"/>
<polygon points="552.49,621.29 559.59,621.29 562.68,619.17 562.68,618.57 555.58,618.57 552.49,620.69" fill="#707070"/>
<polygon points="552.49,620.69 559.59,620.69 562.68,618.57 555.58,618.57" fill="#8d8d8d"/>
<polygon points="552.49,620.69 559.59,620.69 559.59,621.29 552.49,621.29" fill="#A5A5A5"/>
<text x="364.40" y="627.60" font-size="7.4" text-anchor="end" fill="#1a1a1a" stroke="#1a1a1a" stroke-width="0.2" textLength="9.26" lengthAdjust="spacingAndGlyphs">0.0</text>
<text x="364.40" y="610.97" font-size="7.4" text-anchor="end" fill="#1a1a1a" stroke="#1a1a1a" stroke-width="0.2" textLength="9.26" lengthAdjust="spacingAndGlyphs">1.0</text>
<text x="364.40" y="594.33" font-size="7.4" text-anchor="end" fill="#1a1a1a" stroke="#1a1a1a" stroke-width="0.2" textLength="9.26" lengthAdjust="spacingAndGlyphs">2.0</text>
<text x="364.40" y="577.70" font-size="7.4" text-anchor="end" fill="#1a1a1a" stroke="#1a1a1a" stroke-width="0.2" textLength="9.26" lengthAdjust="spacingAndGlyphs">3.0</text>
<text x="364.40" y="561.07" font-size="7.4" text-anchor="end" fill="#1a1a1a" stroke="#1a1a1a" stroke-width="0.2" textLength="9.26" lengthAdjust="spacingAndGlyphs">4.0</text>
<text x="364.40" y="544.43" font-size="7.4" text-anchor="end" fill="#1a1a1a" stroke="#1a1a1a" stroke-width="0.2" textLength="9.26" lengthAdjust="spacingAndGlyphs">5.0</text>
<text x="364.40" y="527.80" font-size="7.4" text-anchor="end" fill="#1a1a1a" stroke="#1a1a1a" stroke-width="0.2" textLength="9.26" lengthAdjust="spacingAndGlyphs">6.0</text>
<text class="t" x="346.10" y="510.00" font-size="8.2" fill="#1a1a1a" textLength="42.50" lengthAdjust="spacingAndGlyphs">E<tspan font-size="5" dy="-2.8">9</tspan><tspan dy="2.8">atoms/cm</tspan><tspan font-size="5" dy="-2.8">2</tspan></text>
<text x="514.20" y="464.80" font-size="14.2" fill="#000" textLength="15.20" lengthAdjust="spacingAndGlyphs">Ba</text>
<text class="t" x="578.10" y="623.00" font-size="7" fill="#1a1a1a" textLength="11.30" lengthAdjust="spacingAndGlyphs">CC2</text>
<text class="t" x="590.03" y="614.88" font-size="7" fill="#1a1a1a" textLength="17.00" lengthAdjust="spacingAndGlyphs">CC3-3</text>
<text class="t" x="601.96" y="606.76" font-size="7" fill="#1a1a1a" textLength="17.00" lengthAdjust="spacingAndGlyphs">CC4-2</text>
<text class="t" x="613.89" y="598.64" font-size="7" fill="#1a1a1a" textLength="17.00" lengthAdjust="spacingAndGlyphs">CC4-1</text>
<text class="t" x="625.82" y="590.52" font-size="7" fill="#1a1a1a" textLength="13.00" lengthAdjust="spacingAndGlyphs">SEM</text>
<text class="t" x="637.75" y="582.40" font-size="7" fill="#1a1a1a" textLength="30.30" lengthAdjust="spacingAndGlyphs">HY1 Room</text>
<text class="t" x="649.68" y="574.28" font-size="7" fill="#1a1a1a" textLength="30.60" lengthAdjust="spacingAndGlyphs">HY2 Room</text>
<text class="t" transform="translate(386.25,634.30) rotate(-45)" font-size="7" text-anchor="end" fill="#1a1a1a" textLength="45.18" lengthAdjust="spacingAndGlyphs">FY2018 - 2nd H</text>
<text class="t" transform="translate(410.15,634.30) rotate(-45)" font-size="7" text-anchor="end" fill="#1a1a1a" textLength="43.04" lengthAdjust="spacingAndGlyphs">FY2019 - 1st H</text>
<text class="t" transform="translate(434.05,634.30) rotate(-45)" font-size="7" text-anchor="end" fill="#1a1a1a" textLength="45.18" lengthAdjust="spacingAndGlyphs">FY2019 - 2nd H</text>
<text class="t" transform="translate(457.95,634.30) rotate(-45)" font-size="7" text-anchor="end" fill="#1a1a1a" textLength="43.04" lengthAdjust="spacingAndGlyphs">FY2020 - 1st H</text>
<text class="t" transform="translate(481.85,634.30) rotate(-45)" font-size="7" text-anchor="end" fill="#1a1a1a" textLength="45.18" lengthAdjust="spacingAndGlyphs">FY2020 - 2nd H</text>
<text class="t" transform="translate(505.75,634.30) rotate(-45)" font-size="7" text-anchor="end" fill="#1a1a1a" textLength="43.04" lengthAdjust="spacingAndGlyphs">FY2021 - 1st H</text>
<text class="t" transform="translate(529.65,634.30) rotate(-45)" font-size="7" text-anchor="end" fill="#1a1a1a" textLength="45.18" lengthAdjust="spacingAndGlyphs">FY2021 - 2nd H</text>
<text class="t" transform="translate(553.55,634.30) rotate(-45)" font-size="7" text-anchor="end" fill="#1a1a1a" textLength="43.04" lengthAdjust="spacingAndGlyphs">FY2022 - 1st H</text>
<path d="M28.80,858.30 L109.60,802.90 L295.60,802.90 M28.80,841.52 L109.60,786.13 L295.60,786.13 M28.80,824.73 L109.60,769.37 L295.60,769.37 M28.80,807.95 L109.60,752.60 L295.60,752.60 M28.80,791.17 L109.60,735.83 L295.60,735.83 M28.80,774.38 L109.60,719.07 L295.60,719.07 M28.80,757.60 L109.60,702.30 L295.60,702.30" fill="none" stroke="#dedede" stroke-width="0.9"/>
<path d="M28.80,858.30 L214.80,858.30 M28.80,855.80 L28.80,858.30 M52.05,855.80 L52.05,858.30 M75.30,855.80 L75.30,858.30 M98.55,855.80 L98.55,858.30 M121.80,855.80 L121.80,858.30 M145.05,855.80 L145.05,858.30 M168.30,855.80 L168.30,858.30 M191.55,855.80 L191.55,858.30 M214.80,855.80 L214.80,858.30" fill="none" stroke="#8faadc" stroke-width="1"/>
<polygon points="110.50,807.89 117.41,807.89 120.41,805.83 120.41,769.61 113.50,769.61 110.50,771.67" fill="#2e4d85"/>
<polygon points="110.50,771.67 117.41,771.67 120.41,769.61 113.50,769.61" fill="#3a62a8"/>
<polygon points="110.50,771.67 117.41,771.67 117.41,807.89 110.50,807.89" fill="#4472C4"/>
<polygon points="133.75,807.89 140.66,807.89 143.66,805.83 143.66,805.23 136.75,805.23 133.75,807.29" fill="#2e4d85"/>
<polygon points="133.75,807.29 140.66,807.29 143.66,805.23 136.75,805.23" fill="#3a62a8"/>
<polygon points="133.75,807.29 140.66,807.29 140.66,807.89 133.75,807.89" fill="#4472C4"/>
<polygon points="157.00,807.89 163.91,807.89 166.91,805.83 166.91,805.23 160.00,805.23 157.00,807.29" fill="#2e4d85"/>
<polygon points="157.00,807.29 163.91,807.29 166.91,805.23 160.00,805.23" fill="#3a62a8"/>
<polygon points="157.00,807.29 163.91,807.29 163.91,807.89 157.00,807.89" fill="#4472C4"/>
<polygon points="180.25,807.89 187.16,807.89 190.16,805.83 190.16,805.23 183.25,805.23 180.25,807.29" fill="#2e4d85"/>
<polygon points="180.25,807.29 187.16,807.29 190.16,805.23 183.25,805.23" fill="#3a62a8"/>
<polygon points="180.25,807.29 187.16,807.29 187.16,807.89 180.25,807.89" fill="#4472C4"/>
<polygon points="203.50,807.89 210.41,807.89 213.41,805.83 213.41,805.23 206.50,805.23 203.50,807.29" fill="#2e4d85"/>
<polygon points="203.50,807.29 210.41,807.29 213.41,805.23 206.50,805.23" fill="#3a62a8"/>
<polygon points="203.50,807.29 210.41,807.29 210.41,807.89 203.50,807.89" fill="#4472C4"/>
<polygon points="226.75,807.89 233.66,807.89 236.66,805.83 236.66,715.62 229.75,715.62 226.75,717.67" fill="#2e4d85"/>
<polygon points="226.75,717.67 233.66,717.67 236.66,715.62 229.75,715.62" fill="#3a62a8"/>
<polygon points="226.75,717.67 233.66,717.67 233.66,807.89 226.75,807.89" fill="#4472C4"/>
<polygon points="250.00,807.89 256.91,807.89 259.91,805.83 259.91,805.23 253.00,805.23 250.00,807.29" fill="#2e4d85"/>
<polygon points="250.00,807.29 256.91,807.29 259.91,805.23 253.00,805.23" fill="#3a62a8"/>
<polygon points="250.00,807.29 256.91,807.29 256.91,807.89 250.00,807.89" fill="#4472C4"/>
<polygon points="122.21,815.80 129.11,815.80 132.11,813.74 132.11,812.40 125.21,812.40 122.21,814.46" fill="#ad8200"/>
<polygon points="122.21,814.46 129.11,814.46 132.11,812.40 125.21,812.40" fill="#dba500"/>
<polygon points="122.21,814.46 129.11,814.46 129.11,815.80 122.21,815.80" fill="#FFC000"/>
<polygon points="191.96,815.80 198.86,815.80 201.86,813.74 201.86,813.14 194.96,813.14 191.96,815.20" fill="#ad8200"/>
<polygon points="191.96,815.20 198.86,815.20 201.86,813.14 194.96,813.14" fill="#dba500"/>
<polygon points="191.96,815.20 198.86,815.20 198.86,815.80 191.96,815.80" fill="#FFC000"/>
<polygon points="261.71,815.80 268.61,815.80 271.61,813.74 271.61,813.14 264.71,813.14 261.71,815.20" fill="#ad8200"/>
<polygon points="261.71,815.20 268.61,815.20 271.61,813.14 264.71,813.14" fill="#dba500"/>
<polygon points="261.71,815.20 268.61,815.20 268.61,815.80 261.71,815.80" fill="#FFC000"/>
<polygon points="157.16,823.71 164.07,823.71 167.07,821.66 167.07,821.06 160.17,821.06 157.16,823.11" fill="#a15521"/>
<polygon points="157.16,823.11 164.07,823.11 167.07,821.06 160.17,821.06" fill="#cb6b2a"/>
<polygon points="157.16,823.11 164.07,823.11 164.07,823.71 157.16,823.71" fill="#ED7D31"/>
<polygon points="226.91,823.71 233.82,823.71 236.82,821.66 236.82,821.06 229.92,821.06 226.91,823.11" fill="#a15521"/>
<polygon points="226.91,823.11 233.82,823.11 236.82,821.06 229.92,821.06" fill="#cb6b2a"/>
<polygon points="226.91,823.11 233.82,823.11 233.82,823.71 226.91,823.71" fill="#ED7D31"/>
<polygon points="122.37,831.63 129.28,831.63 132.28,829.57 132.28,828.23 125.37,828.23 122.37,830.29" fill="#192e51"/>
<polygon points="122.37,830.29 129.28,830.29 132.28,828.23 125.37,828.23" fill="#203a67"/>
<polygon points="122.37,830.29 129.28,830.29 129.28,831.63 122.37,831.63" fill="#264478"/>
<polygon points="168.87,831.63 175.78,831.63 178.78,829.57 178.78,828.90 171.87,828.90 168.87,830.96" fill="#192e51"/>
<polygon points="168.87,830.96 175.78,830.96 178.78,828.90 171.87,828.90" fill="#203a67"/>
<polygon points="168.87,830.96 175.78,830.96 175.78,831.63 168.87,831.63" fill="#264478"/>
<polygon points="215.37,831.63 222.28,831.63 225.28,829.57 225.28,828.97 218.37,828.97 215.37,831.03" fill="#192e51"/>
<polygon points="215.37,831.03 222.28,831.03 225.28,828.97 218.37,828.97" fill="#203a67"/>
<polygon points="215.37,831.03 222.28,831.03 222.28,831.63 215.37,831.63" fill="#264478"/>
<polygon points="87.58,839.54 94.48,839.54 97.49,837.49 97.49,835.81 90.58,835.81 87.58,837.87" fill="#4c7530"/>
<polygon points="87.58,837.87 94.48,837.87 97.49,835.81 90.58,835.81" fill="#60943d"/>
<polygon points="87.58,837.87 94.48,837.87 94.48,839.54 87.58,839.54" fill="#70AD47"/>
<polygon points="110.83,839.54 117.73,839.54 120.74,837.49 120.74,836.48 113.83,836.48 110.83,838.54" fill="#4c7530"/>
<polygon points="110.83,838.54 117.73,838.54 120.74,836.48 113.83,836.48" fill="#60943d"/>
<polygon points="110.83,838.54 117.73,838.54 117.73,839.54 110.83,839.54" fill="#70AD47"/>
<polygon points="157.33,839.54 164.23,839.54 167.24,837.49 167.24,836.81 160.33,836.81 157.33,838.87" fill="#4c7530"/>
<polygon points="157.33,838.87 164.23,838.87 167.24,836.81 160.33,836.81" fill="#60943d"/>
<polygon points="157.33,838.87 164.23,838.87 164.23,839.54 157.33,839.54" fill="#70AD47"/>
<polygon points="203.83,839.54 210.73,839.54 213.74,837.49 213.74,836.81 206.83,836.81 203.83,838.87" fill="#4c7530"/>
<polygon points="203.83,838.87 210.73,838.87 213.74,836.81 206.83,836.81" fill="#60943d"/>
<polygon points="203.83,838.87 210.73,838.87 210.73,839.54 203.83,839.54" fill="#70AD47"/>
<polygon points="76.04,847.46 82.94,847.46 85.94,845.40 85.94,843.72 79.04,843.72 76.04,845.78" fill="#3d6990"/>
<polygon points="76.04,845.78 82.94,845.78 85.94,843.72 79.04,843.72" fill="#4e85b7"/>
<polygon points="76.04,845.78 82.94,845.78 82.94,847.46 76.04,847.46" fill="#5B9BD5"/>
<polygon points="99.29,847.46 106.19,847.46 109.19,845.40 109.19,772.24 102.29,772.24 99.29,774.30" fill="#3d6990"/>
<polygon points="99.29,774.30 106.19,774.30 109.19,772.24 102.29,772.24" fill="#4e85b7"/>
<polygon points="99.29,774.30 106.19,774.30 106.19,847.46 99.29,847.46" fill="#5B9BD5"/>
<polygon points="145.79,847.46 152.69,847.46 155.69,845.40 155.69,844.80 148.79,844.80 145.79,846.86" fill="#3d6990"/>
<polygon points="145.79,846.86 152.69,846.86 155.69,844.80 148.79,844.80" fill="#4e85b7"/>
<polygon points="145.79,846.86 152.69,846.86 152.69,847.46 145.79,847.46" fill="#5B9BD5"/>
<polygon points="41.24,855.37 48.15,855.37 51.15,853.31 51.15,852.31 44.24,852.31 41.24,854.36" fill="#707070"/>
<polygon points="41.24,854.36 48.15,854.36 51.15,852.31 44.24,852.31" fill="#8d8d8d"/>
<polygon points="41.24,854.36 48.15,854.36 48.15,855.37 41.24,855.37" fill="#A5A5A5"/>
<polygon points="64.49,855.37 71.40,855.37 74.40,853.31 74.40,850.63 67.49,850.63 64.49,852.69" fill="#707070"/>
<polygon points="64.49,852.69 71.40,852.69 74.40,850.63 67.49,850.63" fill="#8d8d8d"/>
<polygon points="64.49,852.69 71.40,852.69 71.40,855.37 64.49,855.37" fill="#A5A5A5"/>
<polygon points="134.24,855.37 141.15,855.37 144.15,853.31 144.15,852.71 137.24,852.71 134.24,854.77" fill="#707070"/>
<polygon points="134.24,854.77 141.15,854.77 144.15,852.71 137.24,852.71" fill="#8d8d8d"/>
<polygon points="134.24,854.77 141.15,854.77 141.15,855.37 134.24,855.37" fill="#A5A5A5"/>
<polygon points="203.99,855.37 210.90,855.37 213.90,853.31 213.90,852.31 206.99,852.31 203.99,854.36" fill="#707070"/>
<polygon points="203.99,854.36 210.90,854.36 213.90,852.31 206.99,852.31" fill="#8d8d8d"/>
<polygon points="203.99,854.36 210.90,854.36 210.90,855.37 203.99,855.37" fill="#A5A5A5"/>
<text x="21.10" y="861.60" font-size="7.4" text-anchor="end" fill="#1a1a1a" stroke="#1a1a1a" stroke-width="0.08" textLength="3.70" lengthAdjust="spacingAndGlyphs">0</text>
<text x="21.10" y="844.82" font-size="7.4" text-anchor="end" fill="#1a1a1a" stroke="#1a1a1a" stroke-width="0.08" textLength="3.70" lengthAdjust="spacingAndGlyphs">5</text>
<text x="21.10" y="828.03" font-size="7.4" text-anchor="end" fill="#1a1a1a" stroke="#1a1a1a" stroke-width="0.08" textLength="7.41" lengthAdjust="spacingAndGlyphs">10</text>
<text x="21.10" y="811.25" font-size="7.4" text-anchor="end" fill="#1a1a1a" stroke="#1a1a1a" stroke-width="0.08" textLength="7.41" lengthAdjust="spacingAndGlyphs">15</text>
<text x="21.10" y="794.47" font-size="7.4" text-anchor="end" fill="#1a1a1a" stroke="#1a1a1a" stroke-width="0.08" textLength="7.41" lengthAdjust="spacingAndGlyphs">20</text>
<text x="21.10" y="777.68" font-size="7.4" text-anchor="end" fill="#1a1a1a" stroke="#1a1a1a" stroke-width="0.08" textLength="7.41" lengthAdjust="spacingAndGlyphs">25</text>
<text x="21.10" y="760.90" font-size="7.4" text-anchor="end" fill="#1a1a1a" stroke="#1a1a1a" stroke-width="0.08" textLength="7.41" lengthAdjust="spacingAndGlyphs">30</text>
<text class="t" x="-0.70" y="744.10" font-size="8.2" fill="#1a1a1a" textLength="42.70" lengthAdjust="spacingAndGlyphs">E<tspan font-size="5" dy="-2.8">9</tspan><tspan dy="2.8">atoms/cm</tspan><tspan font-size="5" dy="-2.8">2</tspan></text>
<text x="166.80" y="698.90" font-size="14.2" fill="#000" textLength="15.40" lengthAdjust="spacingAndGlyphs">Sn</text>
<text class="t" x="229.20" y="857.20" font-size="7" fill="#1a1a1a" textLength="11.30" lengthAdjust="spacingAndGlyphs">CC2</text>
<text class="t" x="240.68" y="849.27" font-size="7" fill="#1a1a1a" textLength="17.00" lengthAdjust="spacingAndGlyphs">CC3-3</text>
<text class="t" x="252.16" y="841.34" font-size="7" fill="#1a1a1a" textLength="17.00" lengthAdjust="spacingAndGlyphs">CC4-2</text>
<text class="t" x="263.64" y="833.41" font-size="7" fill="#1a1a1a" textLength="17.00" lengthAdjust="spacingAndGlyphs">CC4-1</text>
<text class="t" x="275.12" y="825.48" font-size="7" fill="#1a1a1a" textLength="13.00" lengthAdjust="spacingAndGlyphs">SEM</text>
<text class="t" x="286.60" y="817.55" font-size="7" fill="#1a1a1a" textLength="30.30" lengthAdjust="spacingAndGlyphs">HY1 Room</text>
<text class="t" x="298.08" y="809.62" font-size="7" fill="#1a1a1a" textLength="30.60" lengthAdjust="spacingAndGlyphs">HY2 Room</text>
<text class="t" transform="translate(42.32,868.30) rotate(-45)" font-size="7" text-anchor="end" fill="#1a1a1a" textLength="45.18" lengthAdjust="spacingAndGlyphs">FY2018 - 2nd H</text>
<text class="t" transform="translate(65.58,868.30) rotate(-45)" font-size="7" text-anchor="end" fill="#1a1a1a" textLength="43.04" lengthAdjust="spacingAndGlyphs">FY2019 - 1st H</text>
<text class="t" transform="translate(88.83,868.30) rotate(-45)" font-size="7" text-anchor="end" fill="#1a1a1a" textLength="45.18" lengthAdjust="spacingAndGlyphs">FY2019 - 2nd H</text>
<text class="t" transform="translate(112.08,868.30) rotate(-45)" font-size="7" text-anchor="end" fill="#1a1a1a" textLength="43.04" lengthAdjust="spacingAndGlyphs">FY2020 - 1st H</text>
<text class="t" transform="translate(135.33,868.30) rotate(-45)" font-size="7" text-anchor="end" fill="#1a1a1a" textLength="45.18" lengthAdjust="spacingAndGlyphs">FY2020 - 2nd H</text>
<text class="t" transform="translate(158.58,868.30) rotate(-45)" font-size="7" text-anchor="end" fill="#1a1a1a" textLength="43.04" lengthAdjust="spacingAndGlyphs">FY2021 - 1st H</text>
<text class="t" transform="translate(181.83,868.30) rotate(-45)" font-size="7" text-anchor="end" fill="#1a1a1a" textLength="45.18" lengthAdjust="spacingAndGlyphs">FY2021 - 2nd H</text>
<text class="t" transform="translate(205.08,868.30) rotate(-45)" font-size="7" text-anchor="end" fill="#1a1a1a" textLength="43.04" lengthAdjust="spacingAndGlyphs">FY2022 - 1st H</text>
<path d="M375.90,866.50 L457.20,811.30 L642.96,811.30 M375.90,854.25 L457.20,798.92 L642.96,798.92 M375.90,842.00 L457.20,786.55 L642.96,786.55 M375.90,829.75 L457.20,774.17 L642.96,774.17 M375.90,817.50 L457.20,761.80 L642.96,761.80 M375.90,805.25 L457.20,749.42 L642.96,749.42 M375.90,793.00 L457.20,737.05 L642.96,737.05 M375.90,780.75 L457.20,724.67 L642.96,724.67 M375.90,768.50 L457.20,712.30 L642.96,712.30" fill="none" stroke="#dedede" stroke-width="0.9"/>
<path d="M375.90,866.50 L561.66,866.50 M375.90,864.00 L375.90,866.50 M399.12,864.00 L399.12,866.50 M422.34,864.00 L422.34,866.50 M445.56,864.00 L445.56,866.50 M468.78,864.00 L468.78,866.50 M492.00,864.00 L492.00,866.50 M515.22,864.00 L515.22,866.50 M538.44,864.00 L538.44,866.50 M561.66,864.00 L561.66,866.50" fill="none" stroke="#8faadc" stroke-width="1"/>
<polygon points="458.04,816.27 464.94,816.27 467.96,814.22 467.96,813.62 461.06,813.62 458.04,815.67" fill="#2e4d85"/>
<polygon points="458.04,815.67 464.94,815.67 467.96,813.62 461.06,813.62" fill="#3a62a8"/>
<polygon points="458.04,815.67 464.94,815.67 464.94,816.27 458.04,816.27" fill="#4472C4"/>
<polygon points="481.26,816.27 488.16,816.27 491.18,814.22 491.18,813.62 484.28,813.62 481.26,815.67" fill="#2e4d85"/>
<polygon points="481.26,815.67 488.16,815.67 491.18,813.62 484.28,813.62" fill="#3a62a8"/>
<polygon points="481.26,815.67 488.16,815.67 488.16,816.27 481.26,816.27" fill="#4472C4"/>
<polygon points="504.48,816.27 511.38,816.27 514.40,814.22 514.40,813.62 507.50,813.62 504.48,815.67" fill="#2e4d85"/>
<polygon points="504.48,815.67 511.38,815.67 514.40,813.62 507.50,813.62" fill="#3a62a8"/>
<polygon points="504.48,815.67 511.38,815.67 511.38,816.27 504.48,816.27" fill="#4472C4"/>
<polygon points="527.70,816.27 534.60,816.27 537.62,814.22 537.62,813.62 530.72,813.62 527.70,815.67" fill="#2e4d85"/>
<polygon points="527.70,815.67 534.60,815.67 537.62,813.62 530.72,813.62" fill="#3a62a8"/>
<polygon points="527.70,815.67 534.60,815.67 534.60,816.27 527.70,816.27" fill="#4472C4"/>
<polygon points="550.92,816.27 557.82,816.27 560.84,814.22 560.84,770.31 553.94,770.31 550.92,772.38" fill="#2e4d85"/>
<polygon points="550.92,772.38 557.82,772.38 560.84,770.31 553.94,770.31" fill="#3a62a8"/>
<polygon points="550.92,772.38 557.82,772.38 557.82,816.27 550.92,816.27" fill="#4472C4"/>
<polygon points="574.14,816.27 581.04,816.27 584.06,814.22 584.06,813.62 577.16,813.62 574.14,815.67" fill="#2e4d85"/>
<polygon points="574.14,815.67 581.04,815.67 584.06,813.62 577.16,813.62" fill="#3a62a8"/>
<polygon points="574.14,815.67 581.04,815.67 581.04,816.27 574.14,816.27" fill="#4472C4"/>
<polygon points="597.36,816.27 604.26,816.27 607.28,814.22 607.28,715.89 600.38,715.89 597.36,717.98" fill="#2e4d85"/>
<polygon points="597.36,717.98 604.26,717.98 607.28,715.89 600.38,715.89" fill="#3a62a8"/>
<polygon points="597.36,717.98 604.26,717.98 604.26,816.27 597.36,816.27" fill="#4472C4"/>
<polygon points="446.43,824.15 453.33,824.15 456.35,822.10 456.35,821.50 449.45,821.50 446.43,823.55" fill="#ad8200"/>
<polygon points="446.43,823.55 453.33,823.55 456.35,821.50 449.45,821.50" fill="#dba500"/>
<polygon points="446.43,823.55 453.33,823.55 453.33,824.15 446.43,824.15" fill="#FFC000"/>
<polygon points="469.65,824.15 476.55,824.15 479.57,822.10 479.57,788.51 472.67,788.51 469.65,790.57" fill="#ad8200"/>
<polygon points="469.65,790.57 476.55,790.57 479.57,788.51 472.67,788.51" fill="#dba500"/>
<polygon points="469.65,790.57 476.55,790.57 476.55,824.15 469.65,824.15" fill="#FFC000"/>
<polygon points="539.31,824.15 546.21,824.15 549.23,822.10 549.23,815.56 542.33,815.56 539.31,817.61" fill="#ad8200"/>
<polygon points="539.31,817.61 546.21,817.61 549.23,815.56 542.33,815.56" fill="#dba500"/>
<polygon points="539.31,817.61 546.21,817.61 546.21,824.15 539.31,824.15" fill="#FFC000"/>
<polygon points="608.97,824.15 615.87,824.15 618.89,822.10 618.89,821.50 611.99,821.50 608.97,823.55" fill="#ad8200"/>
<polygon points="608.97,823.55 615.87,823.55 618.89,821.50 611.99,821.50" fill="#dba500"/>
<polygon points="608.97,823.55 615.87,823.55 615.87,824.15 608.97,824.15" fill="#FFC000"/>
<polygon points="504.48,832.04 511.37,832.04 514.39,829.99 514.39,829.39 507.50,829.39 504.48,831.44" fill="#a15521"/>
<polygon points="504.48,831.44 511.37,831.44 514.39,829.39 507.50,829.39" fill="#cb6b2a"/>
<polygon points="504.48,831.44 511.37,831.44 511.37,832.04 504.48,832.04" fill="#ED7D31"/>
<polygon points="574.14,832.04 581.03,832.04 584.05,829.99 584.05,829.39 577.16,829.39 574.14,831.44" fill="#a15521"/>
<polygon points="574.14,831.44 581.03,831.44 584.05,829.39 577.16,829.39" fill="#cb6b2a"/>
<polygon points="574.14,831.44 581.03,831.44 581.03,832.04 574.14,832.04" fill="#ED7D31"/>
<polygon points="446.42,839.93 453.32,839.93 456.34,837.87 456.34,837.27 449.44,837.27 446.42,839.33" fill="#192e51"/>
<polygon points="446.42,839.33 453.32,839.33 456.34,837.27 449.44,837.27" fill="#203a67"/>
<polygon points="446.42,839.33 453.32,839.33 453.32,839.93 446.42,839.93" fill="#264478"/>
<polygon points="469.64,839.93 476.54,839.93 479.56,837.87 479.56,837.27 472.66,837.27 469.64,839.33" fill="#192e51"/>
<polygon points="469.64,839.33 476.54,839.33 479.56,837.27 472.66,837.27" fill="#203a67"/>
<polygon points="469.64,839.33 476.54,839.33 476.54,839.93 469.64,839.93" fill="#264478"/>
<polygon points="516.08,839.93 522.98,839.93 526.00,837.87 526.00,763.99 519.10,763.99 516.08,766.06" fill="#192e51"/>
<polygon points="516.08,766.06 522.98,766.06 526.00,763.99 519.10,763.99" fill="#203a67"/>
<polygon points="516.08,766.06 522.98,766.06 522.98,839.93 516.08,839.93" fill="#264478"/>
<polygon points="562.52,839.93 569.42,839.93 572.44,837.87 572.44,751.92 565.54,751.92 562.52,754.00" fill="#192e51"/>
<polygon points="562.52,754.00 569.42,754.00 572.44,751.92 565.54,751.92" fill="#203a67"/>
<polygon points="562.52,754.00 569.42,754.00 569.42,839.93 562.52,839.93" fill="#264478"/>
<polygon points="434.81,847.81 441.70,847.81 444.72,845.76 444.72,845.16 437.83,845.16 434.81,847.21" fill="#4c7530"/>
<polygon points="434.81,847.21 441.70,847.21 444.72,845.16 437.83,845.16" fill="#60943d"/>
<polygon points="434.81,847.21 441.70,847.21 441.70,847.81 434.81,847.81" fill="#70AD47"/>
<polygon points="458.03,847.81 464.92,847.81 467.94,845.76 467.94,845.16 461.05,845.16 458.03,847.21" fill="#4c7530"/>
<polygon points="458.03,847.21 464.92,847.21 467.94,845.16 461.05,845.16" fill="#60943d"/>
<polygon points="458.03,847.21 464.92,847.21 464.92,847.81 458.03,847.81" fill="#70AD47"/>
<polygon points="504.47,847.81 511.36,847.81 514.38,845.76 514.38,747.63 507.49,747.63 504.47,749.72" fill="#4c7530"/>
<polygon points="504.47,749.72 511.36,749.72 514.38,747.63 507.49,747.63" fill="#60943d"/>
<polygon points="504.47,749.72 511.36,749.72 511.36,847.81 504.47,847.81" fill="#70AD47"/>
<polygon points="550.91,847.81 557.80,847.81 560.82,845.76 560.82,797.19 553.93,797.19 550.91,799.26" fill="#4c7530"/>
<polygon points="550.91,799.26 557.80,799.26 560.82,797.19 553.93,797.19" fill="#60943d"/>
<polygon points="550.91,799.26 557.80,799.26 557.80,847.81 550.91,847.81" fill="#70AD47"/>
<polygon points="423.19,855.70 430.09,855.70 433.11,853.65 433.11,853.05 426.21,853.05 423.19,855.10" fill="#3d6990"/>
<polygon points="423.19,855.10 430.09,855.10 433.11,853.05 426.21,853.05" fill="#4e85b7"/>
<polygon points="423.19,855.10 430.09,855.10 430.09,855.70 423.19,855.70" fill="#5B9BD5"/>
<polygon points="446.41,855.70 453.31,855.70 456.33,853.65 456.33,853.05 449.43,853.05 446.41,855.10" fill="#3d6990"/>
<polygon points="446.41,855.10 453.31,855.10 456.33,853.05 449.43,853.05" fill="#4e85b7"/>
<polygon points="446.41,855.10 453.31,855.10 453.31,855.70 446.41,855.70" fill="#5B9BD5"/>
<polygon points="492.85,855.70 499.75,855.70 502.77,853.65 502.77,805.14 495.87,805.14 492.85,807.21" fill="#3d6990"/>
<polygon points="492.85,807.21 499.75,807.21 502.77,805.14 495.87,805.14" fill="#4e85b7"/>
<polygon points="492.85,807.21 499.75,807.21 499.75,855.70 492.85,855.70" fill="#5B9BD5"/>
<polygon points="388.36,863.58 395.26,863.58 398.28,861.53 398.28,860.93 391.38,860.93 388.36,862.98" fill="#707070"/>
<polygon points="388.36,862.98 395.26,862.98 398.28,860.93 391.38,860.93" fill="#8d8d8d"/>
<polygon points="388.36,862.98 395.26,862.98 395.26,863.58 388.36,863.58" fill="#A5A5A5"/>
<polygon points="411.58,863.58 418.48,863.58 421.50,861.53 421.50,860.93 414.60,860.93 411.58,862.98" fill="#707070"/>
<polygon points="411.58,862.98 418.48,862.98 421.50,860.93 414.60,860.93" fill="#8d8d8d"/>
<polygon points="411.58,862.98 418.48,862.98 418.48,863.58 411.58,863.58" fill="#A5A5A5"/>
<polygon points="481.24,863.58 488.14,863.58 491.16,861.53 491.16,860.93 484.26,860.93 481.24,862.98" fill="#707070"/>
<polygon points="481.24,862.98 488.14,862.98 491.16,860.93 484.26,860.93" fill="#8d8d8d"/>
<polygon points="481.24,862.98 488.14,862.98 488.14,863.58 481.24,863.58" fill="#A5A5A5"/>
<polygon points="550.90,863.58 557.80,863.58 560.82,861.53 560.82,860.93 553.92,860.93 550.90,862.98" fill="#707070"/>
<polygon points="550.90,862.98 557.80,862.98 560.82,860.93 553.92,860.93" fill="#8d8d8d"/>
<polygon points="550.90,862.98 557.80,862.98 557.80,863.58 550.90,863.58" fill="#A5A5A5"/>
<text x="367.70" y="869.80" font-size="7.4" text-anchor="end" fill="#1a1a1a" stroke="#1a1a1a" stroke-width="0.08" textLength="12.96" lengthAdjust="spacingAndGlyphs">0.00</text>
<text x="367.70" y="857.55" font-size="7.4" text-anchor="end" fill="#1a1a1a" stroke="#1a1a1a" stroke-width="0.08" textLength="12.96" lengthAdjust="spacingAndGlyphs">0.01</text>
<text x="367.70" y="845.30" font-size="7.4" text-anchor="end" fill="#1a1a1a" stroke="#1a1a1a" stroke-width="0.08" textLength="12.96" lengthAdjust="spacingAndGlyphs">0.02</text>
<text x="367.70" y="833.05" font-size="7.4" text-anchor="end" fill="#1a1a1a" stroke="#1a1a1a" stroke-width="0.08" textLength="12.96" lengthAdjust="spacingAndGlyphs">0.03</text>
<text x="367.70" y="820.80" font-size="7.4" text-anchor="end" fill="#1a1a1a" stroke="#1a1a1a" stroke-width="0.08" textLength="12.96" lengthAdjust="spacingAndGlyphs">0.04</text>
<text x="367.70" y="808.55" font-size="7.4" text-anchor="end" fill="#1a1a1a" stroke="#1a1a1a" stroke-width="0.08" textLength="12.96" lengthAdjust="spacingAndGlyphs">0.05</text>
<text x="367.70" y="796.30" font-size="7.4" text-anchor="end" fill="#1a1a1a" stroke="#1a1a1a" stroke-width="0.08" textLength="12.96" lengthAdjust="spacingAndGlyphs">0.06</text>
<text x="367.70" y="784.05" font-size="7.4" text-anchor="end" fill="#1a1a1a" stroke="#1a1a1a" stroke-width="0.08" textLength="12.96" lengthAdjust="spacingAndGlyphs">0.07</text>
<text x="367.70" y="771.80" font-size="7.4" text-anchor="end" fill="#1a1a1a" stroke="#1a1a1a" stroke-width="0.08" textLength="12.96" lengthAdjust="spacingAndGlyphs">0.08</text>
<text class="t" x="347.40" y="756.70" font-size="8.2" fill="#1a1a1a" textLength="42.50" lengthAdjust="spacingAndGlyphs">E<tspan font-size="5" dy="-2.8">9</tspan><tspan dy="2.8">atoms/cm</tspan><tspan font-size="5" dy="-2.8">2</tspan></text>
<text x="514.20" y="708.00" font-size="14.2" fill="#000" textLength="15.60" lengthAdjust="spacingAndGlyphs">Pb</text>
<text class="t" x="576.10" y="865.40" font-size="7" fill="#1a1a1a" textLength="11.30" lengthAdjust="spacingAndGlyphs">CC2</text>
<text class="t" x="587.60" y="857.47" font-size="7" fill="#1a1a1a" textLength="17.00" lengthAdjust="spacingAndGlyphs">CC3-3</text>
<text class="t" x="599.10" y="849.54" font-size="7" fill="#1a1a1a" textLength="17.00" lengthAdjust="spacingAndGlyphs">CC4-2</text>
<text class="t" x="610.60" y="841.61" font-size="7" fill="#1a1a1a" textLength="17.00" lengthAdjust="spacingAndGlyphs">CC4-1</text>
<text class="t" x="622.10" y="833.68" font-size="7" fill="#1a1a1a" textLength="13.00" lengthAdjust="spacingAndGlyphs">SEM</text>
<text class="t" x="633.60" y="825.75" font-size="7" fill="#1a1a1a" textLength="30.30" lengthAdjust="spacingAndGlyphs">HY1 Room</text>
<text class="t" x="645.10" y="817.82" font-size="7" fill="#1a1a1a" textLength="30.60" lengthAdjust="spacingAndGlyphs">HY2 Room</text>
<text class="t" transform="translate(389.41,876.50) rotate(-45)" font-size="7" text-anchor="end" fill="#1a1a1a" textLength="45.18" lengthAdjust="spacingAndGlyphs">FY2018 - 2nd H</text>
<text class="t" transform="translate(412.63,876.50) rotate(-45)" font-size="7" text-anchor="end" fill="#1a1a1a" textLength="43.04" lengthAdjust="spacingAndGlyphs">FY2019 - 1st H</text>
<text class="t" transform="translate(435.85,876.50) rotate(-45)" font-size="7" text-anchor="end" fill="#1a1a1a" textLength="45.18" lengthAdjust="spacingAndGlyphs">FY2019 - 2nd H</text>
<text class="t" transform="translate(459.07,876.50) rotate(-45)" font-size="7" text-anchor="end" fill="#1a1a1a" textLength="43.04" lengthAdjust="spacingAndGlyphs">FY2020 - 1st H</text>
<text class="t" transform="translate(482.29,876.50) rotate(-45)" font-size="7" text-anchor="end" fill="#1a1a1a" textLength="45.18" lengthAdjust="spacingAndGlyphs">FY2020 - 2nd H</text>
<text class="t" transform="translate(505.51,876.50) rotate(-45)" font-size="7" text-anchor="end" fill="#1a1a1a" textLength="43.04" lengthAdjust="spacingAndGlyphs">FY2021 - 1st H</text>
<text class="t" transform="translate(528.73,876.50) rotate(-45)" font-size="7" text-anchor="end" fill="#1a1a1a" textLength="45.18" lengthAdjust="spacingAndGlyphs">FY2021 - 2nd H</text>
<text class="t" transform="translate(551.95,876.50) rotate(-45)" font-size="7" text-anchor="end" fill="#1a1a1a" textLength="43.04" lengthAdjust="spacingAndGlyphs">FY2022 - 1st H</text>
</svg>
</body></html>
